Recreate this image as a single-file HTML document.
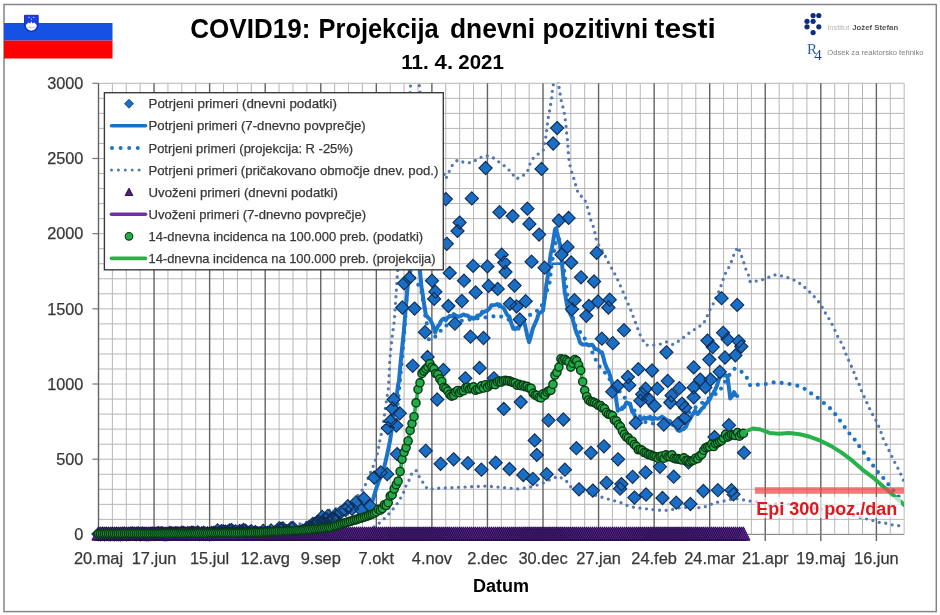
<!DOCTYPE html><html><head><meta charset="utf-8"><title>COVID19: Projekcija dnevni pozitivni testi</title>
<style>html,body{margin:0;padding:0;background:#fff;}svg{display:block;}text{font-family:"Liberation Sans",Arial,sans-serif;}</style></head><body>
<svg width="940" height="615" viewBox="0 0 940 615">
<defs><clipPath id="pc"><rect x="88" y="82" width="816" height="470"/></clipPath><clipPath id="pl"><rect x="98" y="82" width="806" height="453"/></clipPath></defs>
<rect x="0" y="0" width="940" height="615" fill="#fff"/>
<rect x="4" y="4.5" width="932.3" height="607.1" fill="none" stroke="#858585" stroke-width="1.5"/>
<rect x="4" y="23" width="108.5" height="17.6" fill="#1552e4"/>
<rect x="4" y="40.6" width="108.5" height="17.9" fill="#ff0000"/>
<path d="M24.5,15.3 L38.2,15.3 L38.2,23.5 Q38.2,30.6 31.35,31.6 Q24.5,30.6 24.5,23.5 Z" fill="#1d3fe0" stroke="#16279a" stroke-width="0.9"/>
<path d="M25.8,25 L28.6,22.6 L30.2,23.6 L31.4,21.3 L32.6,23.6 L34.2,22.6 L36.8,25 Q36.8,29.6 31.4,30.8 Q25.8,29.6 25.8,25 Z" fill="#ffffff"/>
<path d="M27.4,27.6 Q28.8,26.8 30.2,27.6 Q31.5,26.8 32.8,27.6 Q34.1,26.8 35.4,27.6" fill="none" stroke="#6aa0ff" stroke-width="0.6"/>
<circle cx="29.1" cy="17.4" r="0.7" fill="#c8d8ff"/>
<circle cx="33.7" cy="17.4" r="0.7" fill="#c8d8ff"/>
<circle cx="31.4" cy="19.1" r="0.7" fill="#c8d8ff"/>
<text x="190.2" y="38.4" font-size="28.5" font-weight="bold" fill="#000" textLength="120.2" lengthAdjust="spacingAndGlyphs">COVID19:</text>
<text x="318.6" y="38.4" font-size="28.5" font-weight="bold" fill="#000" textLength="120" lengthAdjust="spacingAndGlyphs">Projekcija</text>
<text x="450" y="38.4" font-size="28.5" font-weight="bold" fill="#000" textLength="85" lengthAdjust="spacingAndGlyphs">dnevni</text>
<text x="542.5" y="38.4" font-size="28.5" font-weight="bold" fill="#000" textLength="105.8" lengthAdjust="spacingAndGlyphs">pozitivni</text>
<text x="654.5" y="38.4" font-size="28.5" font-weight="bold" fill="#000" textLength="61.3" lengthAdjust="spacingAndGlyphs">testi</text>
<text x="401.3" y="68.9" font-size="20.5" font-weight="bold" fill="#000" textLength="27.5" lengthAdjust="spacingAndGlyphs">11.</text>
<text x="434.6" y="68.9" font-size="20.5" font-weight="bold" fill="#000" textLength="18.5" lengthAdjust="spacingAndGlyphs">4.</text>
<text x="458.3" y="68.9" font-size="20.5" font-weight="bold" fill="#000" textLength="45.5" lengthAdjust="spacingAndGlyphs">2021</text>
<circle cx="813.1" cy="15.5" r="2.6" fill="#0c2d7c"/>
<circle cx="818.8" cy="15.5" r="2.6" fill="#0c2d7c"/>
<circle cx="807" cy="21.3" r="2.6" fill="#0c2d7c"/>
<circle cx="813.1" cy="21.3" r="2.6" fill="#0c2d7c"/>
<circle cx="807" cy="26.8" r="2.6" fill="#0c2d7c"/>
<circle cx="818.8" cy="26.8" r="2.6" fill="#0c2d7c"/>
<circle cx="813.1" cy="32.6" r="2.6" fill="#0c2d7c"/>
<text x="827.3" y="30" font-size="7.2" fill="#b4b4b4" textLength="22" lengthAdjust="spacingAndGlyphs">Institut</text>
<text x="852.2" y="30" font-size="7.2" font-weight="bold" fill="#555" textLength="46" lengthAdjust="spacingAndGlyphs">Jožef Stefan</text>
<text x="807" y="54.3" font-size="15" font-family="Liberation Serif" fill="#2a5d9c" style="font-family:'Liberation Serif',serif">R</text>
<text x="814.2" y="60.2" font-size="15" fill="#1b3f8f" style="font-family:'Liberation Serif',serif">4</text>
<text x="827.3" y="54.8" font-size="7.3" fill="#808080" textLength="96.3" lengthAdjust="spacingAndGlyphs">Odsek za reaktorsko tehniko</text>
<line x1="98.5" y1="534.40" x2="903.8" y2="534.40" stroke="#b6b6b6" stroke-width="1"/><line x1="98.5" y1="519.36" x2="903.8" y2="519.36" stroke="#b6b6b6" stroke-width="1"/><line x1="98.5" y1="504.33" x2="903.8" y2="504.33" stroke="#b6b6b6" stroke-width="1"/><line x1="98.5" y1="489.29" x2="903.8" y2="489.29" stroke="#b6b6b6" stroke-width="1"/><line x1="98.5" y1="474.25" x2="903.8" y2="474.25" stroke="#b6b6b6" stroke-width="1"/><line x1="98.5" y1="459.21" x2="903.8" y2="459.21" stroke="#b6b6b6" stroke-width="1"/><line x1="98.5" y1="444.18" x2="903.8" y2="444.18" stroke="#b6b6b6" stroke-width="1"/><line x1="98.5" y1="429.14" x2="903.8" y2="429.14" stroke="#b6b6b6" stroke-width="1"/><line x1="98.5" y1="414.10" x2="903.8" y2="414.10" stroke="#b6b6b6" stroke-width="1"/><line x1="98.5" y1="399.07" x2="903.8" y2="399.07" stroke="#b6b6b6" stroke-width="1"/><line x1="98.5" y1="384.03" x2="903.8" y2="384.03" stroke="#b6b6b6" stroke-width="1"/><line x1="98.5" y1="368.99" x2="903.8" y2="368.99" stroke="#b6b6b6" stroke-width="1"/><line x1="98.5" y1="353.96" x2="903.8" y2="353.96" stroke="#b6b6b6" stroke-width="1"/><line x1="98.5" y1="338.92" x2="903.8" y2="338.92" stroke="#b6b6b6" stroke-width="1"/><line x1="98.5" y1="323.88" x2="903.8" y2="323.88" stroke="#b6b6b6" stroke-width="1"/><line x1="98.5" y1="308.84" x2="903.8" y2="308.84" stroke="#b6b6b6" stroke-width="1"/><line x1="98.5" y1="293.81" x2="903.8" y2="293.81" stroke="#b6b6b6" stroke-width="1"/><line x1="98.5" y1="278.77" x2="903.8" y2="278.77" stroke="#b6b6b6" stroke-width="1"/><line x1="98.5" y1="263.73" x2="903.8" y2="263.73" stroke="#b6b6b6" stroke-width="1"/><line x1="98.5" y1="248.70" x2="903.8" y2="248.70" stroke="#b6b6b6" stroke-width="1"/><line x1="98.5" y1="233.66" x2="903.8" y2="233.66" stroke="#b6b6b6" stroke-width="1"/><line x1="98.5" y1="218.62" x2="903.8" y2="218.62" stroke="#b6b6b6" stroke-width="1"/><line x1="98.5" y1="203.59" x2="903.8" y2="203.59" stroke="#b6b6b6" stroke-width="1"/><line x1="98.5" y1="188.55" x2="903.8" y2="188.55" stroke="#b6b6b6" stroke-width="1"/><line x1="98.5" y1="173.51" x2="903.8" y2="173.51" stroke="#b6b6b6" stroke-width="1"/><line x1="98.5" y1="158.47" x2="903.8" y2="158.47" stroke="#b6b6b6" stroke-width="1"/><line x1="98.5" y1="143.44" x2="903.8" y2="143.44" stroke="#b6b6b6" stroke-width="1"/><line x1="98.5" y1="128.40" x2="903.8" y2="128.40" stroke="#b6b6b6" stroke-width="1"/><line x1="98.5" y1="113.36" x2="903.8" y2="113.36" stroke="#b6b6b6" stroke-width="1"/><line x1="98.5" y1="98.33" x2="903.8" y2="98.33" stroke="#b6b6b6" stroke-width="1"/><line x1="98.5" y1="83.29" x2="903.8" y2="83.29" stroke="#b6b6b6" stroke-width="1"/><line x1="112.39" y1="83.3" x2="112.39" y2="534.4" stroke="#b6b6b6" stroke-width="1"/><line x1="126.28" y1="83.3" x2="126.28" y2="534.4" stroke="#b6b6b6" stroke-width="1"/><line x1="140.17" y1="83.3" x2="140.17" y2="534.4" stroke="#b6b6b6" stroke-width="1"/><line x1="167.95" y1="83.3" x2="167.95" y2="534.4" stroke="#b6b6b6" stroke-width="1"/><line x1="181.84" y1="83.3" x2="181.84" y2="534.4" stroke="#b6b6b6" stroke-width="1"/><line x1="195.74" y1="83.3" x2="195.74" y2="534.4" stroke="#b6b6b6" stroke-width="1"/><line x1="223.52" y1="83.3" x2="223.52" y2="534.4" stroke="#b6b6b6" stroke-width="1"/><line x1="237.41" y1="83.3" x2="237.41" y2="534.4" stroke="#b6b6b6" stroke-width="1"/><line x1="251.30" y1="83.3" x2="251.30" y2="534.4" stroke="#b6b6b6" stroke-width="1"/><line x1="279.08" y1="83.3" x2="279.08" y2="534.4" stroke="#b6b6b6" stroke-width="1"/><line x1="292.97" y1="83.3" x2="292.97" y2="534.4" stroke="#b6b6b6" stroke-width="1"/><line x1="306.86" y1="83.3" x2="306.86" y2="534.4" stroke="#b6b6b6" stroke-width="1"/><line x1="334.64" y1="83.3" x2="334.64" y2="534.4" stroke="#b6b6b6" stroke-width="1"/><line x1="348.53" y1="83.3" x2="348.53" y2="534.4" stroke="#b6b6b6" stroke-width="1"/><line x1="362.43" y1="83.3" x2="362.43" y2="534.4" stroke="#b6b6b6" stroke-width="1"/><line x1="390.21" y1="83.3" x2="390.21" y2="534.4" stroke="#b6b6b6" stroke-width="1"/><line x1="404.10" y1="83.3" x2="404.10" y2="534.4" stroke="#b6b6b6" stroke-width="1"/><line x1="417.99" y1="83.3" x2="417.99" y2="534.4" stroke="#b6b6b6" stroke-width="1"/><line x1="445.77" y1="83.3" x2="445.77" y2="534.4" stroke="#b6b6b6" stroke-width="1"/><line x1="459.66" y1="83.3" x2="459.66" y2="534.4" stroke="#b6b6b6" stroke-width="1"/><line x1="473.55" y1="83.3" x2="473.55" y2="534.4" stroke="#b6b6b6" stroke-width="1"/><line x1="501.33" y1="83.3" x2="501.33" y2="534.4" stroke="#b6b6b6" stroke-width="1"/><line x1="515.22" y1="83.3" x2="515.22" y2="534.4" stroke="#b6b6b6" stroke-width="1"/><line x1="529.11" y1="83.3" x2="529.11" y2="534.4" stroke="#b6b6b6" stroke-width="1"/><line x1="556.90" y1="83.3" x2="556.90" y2="534.4" stroke="#b6b6b6" stroke-width="1"/><line x1="570.79" y1="83.3" x2="570.79" y2="534.4" stroke="#b6b6b6" stroke-width="1"/><line x1="584.68" y1="83.3" x2="584.68" y2="534.4" stroke="#b6b6b6" stroke-width="1"/><line x1="612.46" y1="83.3" x2="612.46" y2="534.4" stroke="#b6b6b6" stroke-width="1"/><line x1="626.35" y1="83.3" x2="626.35" y2="534.4" stroke="#b6b6b6" stroke-width="1"/><line x1="640.24" y1="83.3" x2="640.24" y2="534.4" stroke="#b6b6b6" stroke-width="1"/><line x1="668.02" y1="83.3" x2="668.02" y2="534.4" stroke="#b6b6b6" stroke-width="1"/><line x1="681.91" y1="83.3" x2="681.91" y2="534.4" stroke="#b6b6b6" stroke-width="1"/><line x1="695.80" y1="83.3" x2="695.80" y2="534.4" stroke="#b6b6b6" stroke-width="1"/><line x1="723.59" y1="83.3" x2="723.59" y2="534.4" stroke="#b6b6b6" stroke-width="1"/><line x1="737.48" y1="83.3" x2="737.48" y2="534.4" stroke="#b6b6b6" stroke-width="1"/><line x1="751.37" y1="83.3" x2="751.37" y2="534.4" stroke="#b6b6b6" stroke-width="1"/><line x1="779.15" y1="83.3" x2="779.15" y2="534.4" stroke="#b6b6b6" stroke-width="1"/><line x1="793.04" y1="83.3" x2="793.04" y2="534.4" stroke="#b6b6b6" stroke-width="1"/><line x1="806.93" y1="83.3" x2="806.93" y2="534.4" stroke="#b6b6b6" stroke-width="1"/><line x1="834.71" y1="83.3" x2="834.71" y2="534.4" stroke="#b6b6b6" stroke-width="1"/><line x1="848.60" y1="83.3" x2="848.60" y2="534.4" stroke="#b6b6b6" stroke-width="1"/><line x1="862.49" y1="83.3" x2="862.49" y2="534.4" stroke="#b6b6b6" stroke-width="1"/><line x1="890.28" y1="83.3" x2="890.28" y2="534.4" stroke="#b6b6b6" stroke-width="1"/><line x1="904.17" y1="83.3" x2="904.17" y2="534.4" stroke="#b6b6b6" stroke-width="1"/><line x1="154.06" y1="83.3" x2="154.06" y2="541" stroke="#636363" stroke-width="1.4"/><line x1="209.63" y1="83.3" x2="209.63" y2="541" stroke="#636363" stroke-width="1.4"/><line x1="265.19" y1="83.3" x2="265.19" y2="541" stroke="#636363" stroke-width="1.4"/><line x1="320.75" y1="83.3" x2="320.75" y2="541" stroke="#636363" stroke-width="1.4"/><line x1="376.32" y1="83.3" x2="376.32" y2="541" stroke="#636363" stroke-width="1.4"/><line x1="431.88" y1="83.3" x2="431.88" y2="541" stroke="#636363" stroke-width="1.4"/><line x1="487.44" y1="83.3" x2="487.44" y2="541" stroke="#636363" stroke-width="1.4"/><line x1="543.01" y1="83.3" x2="543.01" y2="541" stroke="#636363" stroke-width="1.4"/><line x1="598.57" y1="83.3" x2="598.57" y2="541" stroke="#636363" stroke-width="1.4"/><line x1="654.13" y1="83.3" x2="654.13" y2="541" stroke="#636363" stroke-width="1.4"/><line x1="709.70" y1="83.3" x2="709.70" y2="541" stroke="#636363" stroke-width="1.4"/><line x1="765.26" y1="83.3" x2="765.26" y2="541" stroke="#636363" stroke-width="1.4"/><line x1="820.82" y1="83.3" x2="820.82" y2="541" stroke="#636363" stroke-width="1.4"/><line x1="876.38" y1="83.3" x2="876.38" y2="541" stroke="#636363" stroke-width="1.4"/>
<line x1="98.5" y1="83.3" x2="98.5" y2="534.4" stroke="#636363" stroke-width="1.4"/>
<line x1="98.5" y1="534.4" x2="903.8" y2="534.4" stroke="#888" stroke-width="1"/>
<line x1="92.4" y1="534.40" x2="98.5" y2="534.40" stroke="#777" stroke-width="1.2"/>
<line x1="92.4" y1="459.21" x2="98.5" y2="459.21" stroke="#777" stroke-width="1.2"/>
<line x1="92.4" y1="384.03" x2="98.5" y2="384.03" stroke="#777" stroke-width="1.2"/>
<line x1="92.4" y1="308.84" x2="98.5" y2="308.84" stroke="#777" stroke-width="1.2"/>
<line x1="92.4" y1="233.66" x2="98.5" y2="233.66" stroke="#777" stroke-width="1.2"/>
<line x1="92.4" y1="158.47" x2="98.5" y2="158.47" stroke="#777" stroke-width="1.2"/>
<line x1="92.4" y1="83.29" x2="98.5" y2="83.29" stroke="#777" stroke-width="1.2"/>
<line x1="98.5" y1="534.4" x2="98.5" y2="541" stroke="#636363" stroke-width="1.4"/>
<g clip-path="url(#pl)">
<polyline points="396.0,420.0 401.0,370.0 404.5,330.0 407.0,290.0 409.0,270.0 421.1,289.3 422.8,299.6 424.5,307.6 425.6,318.9 427.4,326.0 429.0,340.0 434.0,338.0 445.0,326.0 460.0,321.0 480.0,318.0 499.0,315.6 508.0,319.5 520.0,322.0 532.8,313.0 540.6,309.0 549.5,283.4 552.0,262.0 556.0,240.0 559.0,238.0 563.0,262.0 568.0,300.0 575.0,325.0 588.0,343.0 598.3,365.2 604.8,372.4 613.0,384.0 622.3,394.5 634.0,410.0 646.4,423.1 662.0,424.0 678.0,422.0 692.0,410.0 706.0,400.0 719.0,392.0 728.8,375.6 734.6,368.8 739.5,369.8 746.3,376.6 750.2,385.4 756.7,384.8 765.8,384.0 774.9,382.2 784.0,383.2 793.1,384.5 802.2,387.1 810.0,392.6 818.4,398.3 825.1,404.0 832.1,410.0 838.1,418.1 843.9,425.9 849.6,433.7 855.6,440.7 860.8,448.5 866.5,456.3 872.0,464.1 877.7,471.9 884.2,479.0 889.9,486.3 895.9,493.5 902.4,500.6" fill="none" stroke="#1d74c6" stroke-width="4.2" stroke-linecap="round" stroke-dasharray="0 8" />
<polyline points="98.5,533.5 100.5,533.5 102.5,533.5 104.5,533.4 106.4,533.4 108.4,533.4 110.4,533.4 112.4,533.4 114.4,533.3 116.4,533.3 118.3,533.3 120.3,533.3 122.3,533.3 124.3,533.2 126.3,533.2 128.3,533.2 130.3,533.2 132.2,533.2 134.2,533.1 136.2,533.1 138.2,533.1 140.2,533.1 142.2,533.1 144.1,533.1 146.1,533.0 148.1,533.0 150.1,533.0 152.1,533.0 154.1,533.0 156.0,532.9 158.0,532.9 160.0,532.9 162.0,532.9 164.0,532.9 166.0,532.8 168.0,532.8 169.9,532.8 171.9,532.8 173.9,532.8 175.9,532.7 177.9,532.7 179.9,532.7 181.8,532.7 183.8,532.7 185.8,532.6 187.8,532.6 189.8,532.6 191.8,532.6 193.8,532.6 195.7,532.5 197.7,532.5 199.7,532.5 201.7,532.4 203.7,532.4 205.7,532.3 207.6,532.2 209.6,532.2 211.6,532.1 213.6,532.0 215.6,532.0 217.6,531.9 219.5,531.8 221.5,531.8 223.5,531.7 225.5,531.6 227.5,531.6 229.5,531.5 231.5,531.5 233.4,531.4 235.4,531.3 237.4,531.3 239.4,531.2 241.4,531.1 243.4,531.1 245.3,531.0 247.3,530.9 249.3,530.9 251.3,530.8 253.3,530.7 255.3,530.7 257.3,530.6 259.2,530.5 261.2,530.4 263.2,530.3 265.2,530.2 267.2,530.1 269.2,529.9 271.1,529.8 273.1,529.7 275.1,529.6 277.1,529.4 279.1,529.3 281.1,529.2 283.0,529.1 285.0,528.9 287.0,528.8 289.0,528.7 291.0,528.6 293.0,528.4 295.0,528.3 296.9,528.2 298.9,528.1 300.9,527.9 302.9,527.6 304.9,527.3 306.9,527.1 308.8,526.8 310.8,526.6 312.8,526.3 314.8,526.0 316.8,525.8 318.8,525.5 320.8,525.2 322.7,525.0 324.7,524.7 326.7,524.4 328.7,524.2 330.7,523.8 332.7,523.3 334.6,522.8 336.6,522.3 338.6,521.8 340.6,521.4 342.6,520.9 344.6,520.4 346.5,519.9 348.5,519.4 350.5,518.8 352.5,518.0 354.5,517.2 356.5,516.4 358.5,515.6 360.4,514.8 362.4,514.0 364.4,513.2 366.4,511.0 368.4,508.2 370.4,505.3 372.3,501.8 374.3,495.1 376.3,488.3 378.3,482.5 380.3,477.3 382.3,472.0 384.3,466.7 386.2,458.8 388.2,449.4 390.2,440.0 392.2,425.9 394.2,411.8 396.2,398.8 398.1,384.9 399.0,381.0 400.1,367.9 402.1,348.1 404.0,330.0 404.1,327.6 406.1,304.6 408.0,282.0 408.1,280.1 410.1,272.3 412.0,260.8 414.0,250.0 414.0,248.9 416.0,255.9 418.0,262.8 419.7,269.0 420.0,271.3 421.7,289.0 422.0,289.3 423.9,303.2 425.9,315.2 426.3,315.8 427.9,317.3 429.9,319.3 430.0,319.5 431.9,322.9 433.9,327.9 435.2,332.5 435.8,330.7 437.8,326.4 439.8,324.2 440.4,322.0 441.8,320.1 443.8,318.5 445.8,320.3 446.9,318.2 447.8,317.9 449.7,315.9 451.7,316.4 453.4,315.6 453.7,314.1 455.7,315.5 457.7,316.8 459.7,316.3 461.6,315.6 462.5,314.9 463.6,314.5 465.6,315.4 467.6,315.4 469.0,316.9 469.6,317.9 471.6,317.5 473.6,318.7 475.5,317.6 475.6,318.2 477.5,315.4 479.5,315.3 481.5,313.9 482.1,311.7 483.5,312.3 485.5,311.3 487.4,310.5 488.6,309.0 489.4,308.9 491.4,305.3 492.5,305.1 493.4,305.3 495.4,304.9 497.4,304.1 499.0,305.8 499.3,304.5 501.3,306.5 503.3,307.7 504.2,309.0 505.3,311.3 507.3,315.1 509.3,316.5 509.4,316.9 511.3,323.2 513.2,328.7 513.3,327.3 515.2,329.2 517.2,327.8 518.5,328.6 519.2,326.7 521.2,323.7 523.2,320.6 523.7,320.8 525.1,325.6 527.1,334.9 528.9,341.6 529.1,342.2 531.1,335.4 532.8,328.6 533.1,327.8 535.1,323.4 537.1,318.9 538.0,315.6 539.0,313.0 541.0,312.3 543.0,310.6 543.2,309.0 545.0,296.0 546.3,285.0 547.0,281.2 549.0,266.9 550.9,252.5 551.1,252.5 552.9,242.9 554.9,230.1 555.2,229.0 556.3,228.1 556.9,231.6 558.9,240.7 560.1,244.4 560.9,251.8 562.5,268.8 562.8,271.9 564.8,293.0 565.0,293.2 566.8,304.0 568.2,311.0 568.8,311.1 570.8,315.0 572.8,319.0 573.2,321.0 574.8,327.3 576.7,333.4 578.7,337.6 579.7,341.9 580.7,343.3 582.7,344.6 584.7,344.4 586.3,344.5 586.7,344.1 588.6,345.4 590.6,344.8 592.6,345.1 594.1,347.1 594.6,348.9 596.6,349.2 598.6,350.2 600.6,352.8 601.9,352.3 602.5,354.3 604.1,360.0 604.5,362.3 606.5,367.5 608.0,370.4 608.5,370.9 610.5,377.0 611.9,382.1 612.5,383.5 614.4,390.6 615.8,396.4 616.4,401.2 617.8,410.7 618.4,409.7 620.4,409.3 622.3,408.8 622.4,407.5 624.4,407.0 626.2,402.9 626.4,402.5 628.3,403.1 630.1,403.6 630.3,404.6 632.3,412.0 632.7,412.0 634.3,414.4 636.3,419.3 636.6,418.5 638.3,418.7 640.2,419.1 641.8,419.2 642.2,419.2 644.2,417.4 646.2,418.6 648.2,417.6 649.6,418.5 650.2,416.9 652.1,419.5 654.1,417.5 656.1,418.5 656.1,418.4 658.1,418.8 660.1,417.9 662.1,416.7 662.6,417.2 664.1,418.2 666.0,419.6 667.8,420.5 668.0,421.6 670.0,421.1 672.0,424.3 673.0,425.0 674.0,425.1 676.0,427.0 677.9,430.4 679.5,430.9 679.9,430.7 681.9,429.6 683.9,428.9 684.7,427.6 685.9,426.9 687.9,422.1 688.6,421.1 689.9,419.4 691.8,415.9 693.8,412.7 695.0,410.7 695.8,412.4 697.6,414.2 697.8,413.8 699.8,411.4 701.8,408.6 703.7,407.4 705.4,403.8 705.7,404.0 707.7,401.9 709.7,399.5 711.7,394.7 713.2,393.4 713.7,392.5 715.6,388.9 717.6,383.8 719.6,376.8 719.7,377.8 721.6,375.4 723.6,375.1 723.7,375.2 725.6,375.1 727.6,376.9 727.6,377.8 729.5,391.9 730.2,398.6 731.5,396.9 733.5,394.0 734.1,392.1 735.5,395.1 737.2,396.0" fill="none" stroke="#1b74c8" stroke-width="4" stroke-linejoin="round" stroke-linecap="round"/>
<line x1="551.5" y1="263.8" x2="561.5" y2="263.6" stroke="#1b74c8" stroke-width="2.6"/>
<polyline points="300.0,524.0 315.0,520.0 327.8,510.9 342.1,507.0 355.1,499.2 364.2,487.5 367.5,479.7 373.3,466.0 375.9,458.9 377.9,451.7 379.2,443.9 383.3,424.2 386.0,403.4 388.5,387.8 389.8,360.0 392.0,337.8 394.4,320.0 397.3,275.4 402.0,220.0 406.0,150.0 410.6,85.2 414.0,60.0 418.0,70.0 419.7,90.4 425.0,120.0 435.0,150.0 445.8,178.9 449.1,171.6 452.3,165.3 457.5,160.1 464.8,162.7 471.8,162.7 478.3,158.6 484.9,155.6 491.7,156.8 497.8,161.2 504.3,165.8 510.8,171.6 516.0,178.9 521.7,176.8 527.4,171.6 529.8,164.4 533.3,158.0 539.1,153.3 543.3,150.2 546.0,135.9 547.8,120.3 549.3,112.5 550.6,104.7 551.9,96.9 552.4,90.4 553.7,82.6 555.5,70.0 557.5,75.0 558.9,86.5 560.2,94.3 561.5,102.1 563.4,108.6 564.9,116.4 566.0,125.5 566.7,133.3 567.5,140.4 568.0,148.2 568.6,156.0 569.3,162.7 571.2,170.5 573.8,178.3 575.8,185.4 577.9,192.4 580.5,195.8 583.7,197.6 586.8,204.9 588.9,212.7 590.9,220.5 593.5,227.0 595.4,234.8 596.7,241.7 604.5,254.7 608.4,262.5 613.6,271.6 618.8,282.0 622.7,291.1 626.6,300.2 630.5,309.3 634.4,319.8 637.8,328.9 640.9,336.7 645.6,345.0 652.9,345.2 659.1,344.5 666.4,341.9 672.9,344.5 679.4,340.6 685.2,336.1 691.1,331.5 697.6,327.6 703.4,323.7 706.7,317.1 710.1,309.3 713.8,302.8 719.7,289.3 722.4,282.0 724.2,275.5 728.3,268.5 731.5,261.2 734.1,253.9 738.0,246.9 740.6,253.4 743.2,260.7 745.8,269.0 748.4,274.7 750.2,282.0 754.4,281.5 761.4,280.0 767.9,277.6 774.9,275.0 781.9,276.0 789.2,278.1 795.7,280.7 802.2,285.1 808.0,290.3 813.2,295.5 818.4,301.5 822.5,307.8 826.2,314.5 830.3,320.8 834.0,328.0 836.6,334.5 840.7,341.6 843.9,348.3 846.5,355.4 849.6,362.4 853.0,369.7 855.6,377.0 859.0,384.0 861.5,391.0 864.7,397.8 867.8,404.8 871.2,412.1 875.1,418.6 878.2,425.1 880.8,431.6 883.4,439.4 886.8,445.9 890.2,453.0 893.3,459.7 897.2,466.7 900.6,473.8 903.7,481.0" fill="none" stroke="#5478b4" stroke-width="3.3" stroke-linecap="round" stroke-dasharray="0 6.6" />
<polyline points="374.0,527.0 380.1,522.4 386.0,517.1 390.9,511.7 395.7,505.9 399.6,500.0 403.5,492.7 405.8,486.2 409.7,479.0 412.3,471.9 416.2,470.6 419.7,477.6 427.6,489.3 439.3,488.2 454.9,487.5 470.5,486.8 486.0,486.0 503.0,487.5 518.6,489.0 529.0,487.5 542.0,483.6 552.4,478.5 558.9,476.3 566.7,481.5 570.6,486.7 585.0,492.0 599.3,496.5 612.3,500.2 620.1,502.3 625.3,504.9 634.4,507.5 646.1,508.8 657.3,510.0 665.1,510.5 671.6,509.7 679.4,507.9 687.2,507.4 695.0,507.4 701.5,507.9 708.0,505.8 714.5,502.7 722.4,501.4 728.9,499.6 736.7,498.8 744.5,500.1 751.5,501.3 758.0,501.9 767.9,505.3 775.7,504.0 783.5,503.2 800.0,506.0 820.0,509.0 840.0,512.0 860.8,517.5 869.9,519.6 877.7,522.2 885.5,523.2 892.0,524.8 899.8,525.8 903.7,526.5" fill="none" stroke="#5478b4" stroke-width="3.3" stroke-linecap="round" stroke-dasharray="0 6.6" />
</g>
<g clip-path="url(#pc)">
<path d="M98.5,527.5l6.6,6.6l-6.6,6.6l-6.6,-6.6zM100.5,527.7l6.6,6.6l-6.6,6.6l-6.6,-6.6zM102.5,527.2l6.6,6.6l-6.6,6.6l-6.6,-6.6zM104.5,527.7l6.6,6.6l-6.6,6.6l-6.6,-6.6zM106.4,527.3l6.6,6.6l-6.6,6.6l-6.6,-6.6zM108.4,527.5l6.6,6.6l-6.6,6.6l-6.6,-6.6zM110.4,527.7l6.6,6.6l-6.6,6.6l-6.6,-6.6zM112.4,527.3l6.6,6.6l-6.6,6.6l-6.6,-6.6zM114.4,527.8l6.6,6.6l-6.6,6.6l-6.6,-6.6zM116.4,527.4l6.6,6.6l-6.6,6.6l-6.6,-6.6zM118.3,527.7l6.6,6.6l-6.6,6.6l-6.6,-6.6zM120.3,527.7l6.6,6.6l-6.6,6.6l-6.6,-6.6zM122.3,527.4l6.6,6.6l-6.6,6.6l-6.6,-6.6zM124.3,527.1l6.6,6.6l-6.6,6.6l-6.6,-6.6zM126.3,527.7l6.6,6.6l-6.6,6.6l-6.6,-6.6zM128.3,527.6l6.6,6.6l-6.6,6.6l-6.6,-6.6zM130.3,527.2l6.6,6.6l-6.6,6.6l-6.6,-6.6zM132.2,526.9l6.6,6.6l-6.6,6.6l-6.6,-6.6zM134.2,527.3l6.6,6.6l-6.6,6.6l-6.6,-6.6zM136.2,527.4l6.6,6.6l-6.6,6.6l-6.6,-6.6zM138.2,526.9l6.6,6.6l-6.6,6.6l-6.6,-6.6zM140.2,527.8l6.6,6.6l-6.6,6.6l-6.6,-6.6zM142.2,527.0l6.6,6.6l-6.6,6.6l-6.6,-6.6zM144.1,527.5l6.6,6.6l-6.6,6.6l-6.6,-6.6zM146.1,527.7l6.6,6.6l-6.6,6.6l-6.6,-6.6zM148.1,527.7l6.6,6.6l-6.6,6.6l-6.6,-6.6zM150.1,527.5l6.6,6.6l-6.6,6.6l-6.6,-6.6zM152.1,527.1l6.6,6.6l-6.6,6.6l-6.6,-6.6zM154.1,527.6l6.6,6.6l-6.6,6.6l-6.6,-6.6zM156.0,527.3l6.6,6.6l-6.6,6.6l-6.6,-6.6zM158.0,526.5l6.6,6.6l-6.6,6.6l-6.6,-6.6zM160.0,527.0l6.6,6.6l-6.6,6.6l-6.6,-6.6zM162.0,526.6l6.6,6.6l-6.6,6.6l-6.6,-6.6zM164.0,527.7l6.6,6.6l-6.6,6.6l-6.6,-6.6zM166.0,527.7l6.6,6.6l-6.6,6.6l-6.6,-6.6zM168.0,527.4l6.6,6.6l-6.6,6.6l-6.6,-6.6zM169.9,526.4l6.6,6.6l-6.6,6.6l-6.6,-6.6zM171.9,526.9l6.6,6.6l-6.6,6.6l-6.6,-6.6zM173.9,527.1l6.6,6.6l-6.6,6.6l-6.6,-6.6zM175.9,526.6l6.6,6.6l-6.6,6.6l-6.6,-6.6zM177.9,526.8l6.6,6.6l-6.6,6.6l-6.6,-6.6zM179.9,527.2l6.6,6.6l-6.6,6.6l-6.6,-6.6zM181.8,526.1l6.6,6.6l-6.6,6.6l-6.6,-6.6zM183.8,526.3l6.6,6.6l-6.6,6.6l-6.6,-6.6zM185.8,527.3l6.6,6.6l-6.6,6.6l-6.6,-6.6zM187.8,526.6l6.6,6.6l-6.6,6.6l-6.6,-6.6zM189.8,526.7l6.6,6.6l-6.6,6.6l-6.6,-6.6zM191.8,526.0l6.6,6.6l-6.6,6.6l-6.6,-6.6zM193.8,526.3l6.6,6.6l-6.6,6.6l-6.6,-6.6zM195.7,527.2l6.6,6.6l-6.6,6.6l-6.6,-6.6zM197.7,525.7l6.6,6.6l-6.6,6.6l-6.6,-6.6zM199.7,527.6l6.6,6.6l-6.6,6.6l-6.6,-6.6zM201.7,526.9l6.6,6.6l-6.6,6.6l-6.6,-6.6zM203.7,526.2l6.6,6.6l-6.6,6.6l-6.6,-6.6zM205.7,527.5l6.6,6.6l-6.6,6.6l-6.6,-6.6zM207.6,526.8l6.6,6.6l-6.6,6.6l-6.6,-6.6zM209.6,527.7l6.6,6.6l-6.6,6.6l-6.6,-6.6zM211.6,526.4l6.6,6.6l-6.6,6.6l-6.6,-6.6zM213.6,526.2l6.6,6.6l-6.6,6.6l-6.6,-6.6zM215.6,526.6l6.6,6.6l-6.6,6.6l-6.6,-6.6zM217.6,523.8l6.6,6.6l-6.6,6.6l-6.6,-6.6zM219.5,526.1l6.6,6.6l-6.6,6.6l-6.6,-6.6zM221.5,524.5l6.6,6.6l-6.6,6.6l-6.6,-6.6zM223.5,524.9l6.6,6.6l-6.6,6.6l-6.6,-6.6zM225.5,525.0l6.6,6.6l-6.6,6.6l-6.6,-6.6zM227.5,525.5l6.6,6.6l-6.6,6.6l-6.6,-6.6zM229.5,523.9l6.6,6.6l-6.6,6.6l-6.6,-6.6zM231.5,523.5l6.6,6.6l-6.6,6.6l-6.6,-6.6zM233.4,525.4l6.6,6.6l-6.6,6.6l-6.6,-6.6zM235.4,524.7l6.6,6.6l-6.6,6.6l-6.6,-6.6zM237.4,527.1l6.6,6.6l-6.6,6.6l-6.6,-6.6zM239.4,524.5l6.6,6.6l-6.6,6.6l-6.6,-6.6zM241.4,524.7l6.6,6.6l-6.6,6.6l-6.6,-6.6zM243.4,523.3l6.6,6.6l-6.6,6.6l-6.6,-6.6zM245.3,524.0l6.6,6.6l-6.6,6.6l-6.6,-6.6zM247.3,526.2l6.6,6.6l-6.6,6.6l-6.6,-6.6zM249.3,525.8l6.6,6.6l-6.6,6.6l-6.6,-6.6zM251.3,524.6l6.6,6.6l-6.6,6.6l-6.6,-6.6zM253.3,527.3l6.6,6.6l-6.6,6.6l-6.6,-6.6zM255.3,525.5l6.6,6.6l-6.6,6.6l-6.6,-6.6zM257.3,526.7l6.6,6.6l-6.6,6.6l-6.6,-6.6zM259.2,526.9l6.6,6.6l-6.6,6.6l-6.6,-6.6zM261.2,527.1l6.6,6.6l-6.6,6.6l-6.6,-6.6zM263.2,524.2l6.6,6.6l-6.6,6.6l-6.6,-6.6zM265.2,526.8l6.6,6.6l-6.6,6.6l-6.6,-6.6zM267.2,526.3l6.6,6.6l-6.6,6.6l-6.6,-6.6zM269.2,525.8l6.6,6.6l-6.6,6.6l-6.6,-6.6zM271.1,523.8l6.6,6.6l-6.6,6.6l-6.6,-6.6zM273.1,527.0l6.6,6.6l-6.6,6.6l-6.6,-6.6zM275.1,525.5l6.6,6.6l-6.6,6.6l-6.6,-6.6zM277.1,523.7l6.6,6.6l-6.6,6.6l-6.6,-6.6zM279.1,521.7l6.6,6.6l-6.6,6.6l-6.6,-6.6zM281.1,522.1l6.6,6.6l-6.6,6.6l-6.6,-6.6zM283.0,521.9l6.6,6.6l-6.6,6.6l-6.6,-6.6zM285.0,525.4l6.6,6.6l-6.6,6.6l-6.6,-6.6zM287.0,524.6l6.6,6.6l-6.6,6.6l-6.6,-6.6zM289.0,524.9l6.6,6.6l-6.6,6.6l-6.6,-6.6zM291.0,521.7l6.6,6.6l-6.6,6.6l-6.6,-6.6zM293.0,521.3l6.6,6.6l-6.6,6.6l-6.6,-6.6zM295.0,526.1l6.6,6.6l-6.6,6.6l-6.6,-6.6zM296.9,526.0l6.6,6.6l-6.6,6.6l-6.6,-6.6zM298.9,525.7l6.6,6.6l-6.6,6.6l-6.6,-6.6zM300.9,525.6l6.6,6.6l-6.6,6.6l-6.6,-6.6zM302.9,524.1l6.6,6.6l-6.6,6.6l-6.6,-6.6zM304.9,523.5l6.6,6.6l-6.6,6.6l-6.6,-6.6zM306.9,523.0l6.6,6.6l-6.6,6.6l-6.6,-6.6zM308.8,525.5l6.6,6.6l-6.6,6.6l-6.6,-6.6zM310.8,521.4l6.6,6.6l-6.6,6.6l-6.6,-6.6zM312.8,521.9l6.6,6.6l-6.6,6.6l-6.6,-6.6zM314.8,520.0l6.6,6.6l-6.6,6.6l-6.6,-6.6zM316.8,516.2l6.6,6.6l-6.6,6.6l-6.6,-6.6zM318.8,518.8l6.6,6.6l-6.6,6.6l-6.6,-6.6zM320.8,520.5l6.6,6.6l-6.6,6.6l-6.6,-6.6zM306.9,521.8l6.6,6.6l-6.6,6.6l-6.6,-6.6zM308.8,520.6l6.6,6.6l-6.6,6.6l-6.6,-6.6zM310.8,523.4l6.6,6.6l-6.6,6.6l-6.6,-6.6zM312.8,517.4l6.6,6.6l-6.6,6.6l-6.6,-6.6zM314.8,517.2l6.6,6.6l-6.6,6.6l-6.6,-6.6zM316.8,515.8l6.6,6.6l-6.6,6.6l-6.6,-6.6zM318.8,515.3l6.6,6.6l-6.6,6.6l-6.6,-6.6zM320.8,516.9l6.6,6.6l-6.6,6.6l-6.6,-6.6zM322.7,515.9l6.6,6.6l-6.6,6.6l-6.6,-6.6zM324.7,516.8l6.6,6.6l-6.6,6.6l-6.6,-6.6zM326.7,512.7l6.6,6.6l-6.6,6.6l-6.6,-6.6zM328.7,515.2l6.6,6.6l-6.6,6.6l-6.6,-6.6zM330.7,514.3l6.6,6.6l-6.6,6.6l-6.6,-6.6zM332.7,512.6l6.6,6.6l-6.6,6.6l-6.6,-6.6zM334.6,511.9l6.6,6.6l-6.6,6.6l-6.6,-6.6zM336.6,510.0l6.6,6.6l-6.6,6.6l-6.6,-6.6zM485.6,161.4l6.6,6.6l-6.6,6.6l-6.6,-6.6zM445.8,192.5l6.6,6.6l-6.6,6.6l-6.6,-6.6zM471.8,191.8l6.6,6.6l-6.6,6.6l-6.6,-6.6zM459.6,216.0l6.6,6.6l-6.6,6.6l-6.6,-6.6zM457.5,224.3l6.6,6.6l-6.6,6.6l-6.6,-6.6zM446.8,237.2l6.6,6.6l-6.6,6.6l-6.6,-6.6zM499.5,205.6l6.6,6.6l-6.6,6.6l-6.6,-6.6zM512.6,209.5l6.6,6.6l-6.6,6.6l-6.6,-6.6zM527.4,202.1l6.6,6.6l-6.6,6.6l-6.6,-6.6zM529.4,217.3l6.6,6.6l-6.6,6.6l-6.6,-6.6zM539.1,228.0l6.6,6.6l-6.6,6.6l-6.6,-6.6zM541.5,162.3l6.6,6.6l-6.6,6.6l-6.6,-6.6zM553.2,136.9l6.6,6.6l-6.6,6.6l-6.6,-6.6zM557.1,121.5l6.6,6.6l-6.6,6.6l-6.6,-6.6zM558.9,213.9l6.6,6.6l-6.6,6.6l-6.6,-6.6zM568.6,211.3l6.6,6.6l-6.6,6.6l-6.6,-6.6zM473.1,259.3l6.6,6.6l-6.6,6.6l-6.6,-6.6zM487.4,259.8l6.6,6.6l-6.6,6.6l-6.6,-6.6zM449.7,266.3l6.6,6.6l-6.6,6.6l-6.6,-6.6zM464.0,274.1l6.6,6.6l-6.6,6.6l-6.6,-6.6zM432.0,274.1l6.6,6.6l-6.6,6.6l-6.6,-6.6zM409.3,271.5l6.6,6.6l-6.6,6.6l-6.6,-6.6zM404.1,276.7l6.6,6.6l-6.6,6.6l-6.6,-6.6zM435.4,285.1l6.6,6.6l-6.6,6.6l-6.6,-6.6zM434.1,292.3l6.6,6.6l-6.6,6.6l-6.6,-6.6zM475.7,285.8l6.6,6.6l-6.6,6.6l-6.6,-6.6zM488.7,279.3l6.6,6.6l-6.6,6.6l-6.6,-6.6zM402.3,300.9l6.6,6.6l-6.6,6.6l-6.6,-6.6zM414.5,302.0l6.6,6.6l-6.6,6.6l-6.6,-6.6zM448.4,299.4l6.6,6.6l-6.6,6.6l-6.6,-6.6zM461.9,294.4l6.6,6.6l-6.6,6.6l-6.6,-6.6zM454.9,317.1l6.6,6.6l-6.6,6.6l-6.6,-6.6zM425.0,325.6l6.6,6.6l-6.6,6.6l-6.6,-6.6zM470.5,330.1l6.6,6.6l-6.6,6.6l-6.6,-6.6zM483.5,331.4l6.6,6.6l-6.6,6.6l-6.6,-6.6zM427.6,350.4l6.6,6.6l-6.6,6.6l-6.6,-6.6zM412.7,359.2l6.6,6.6l-6.6,6.6l-6.6,-6.6zM479.6,361.3l6.6,6.6l-6.6,6.6l-6.6,-6.6zM465.3,371.7l6.6,6.6l-6.6,6.6l-6.6,-6.6zM497.7,282.3l6.6,6.6l-6.6,6.6l-6.6,-6.6zM505.5,265.4l6.6,6.6l-6.6,6.6l-6.6,-6.6zM514.6,279.0l6.6,6.6l-6.6,6.6l-6.6,-6.6zM510.0,297.2l6.6,6.6l-6.6,6.6l-6.6,-6.6zM516.6,299.8l6.6,6.6l-6.6,6.6l-6.6,-6.6zM525.7,294.6l6.6,6.6l-6.6,6.6l-6.6,-6.6zM519.8,312.9l6.6,6.6l-6.6,6.6l-6.6,-6.6zM501.7,248.1l6.6,6.6l-6.6,6.6l-6.6,-6.6zM504.3,255.9l6.6,6.6l-6.6,6.6l-6.6,-6.6zM531.6,255.1l6.6,6.6l-6.6,6.6l-6.6,-6.6zM544.6,261.1l6.6,6.6l-6.6,6.6l-6.6,-6.6zM561.5,248.1l6.6,6.6l-6.6,6.6l-6.6,-6.6zM567.5,240.3l6.6,6.6l-6.6,6.6l-6.6,-6.6zM571.2,255.9l6.6,6.6l-6.6,6.6l-6.6,-6.6zM581.0,270.7l6.6,6.6l-6.6,6.6l-6.6,-6.6zM594.1,274.9l6.6,6.6l-6.6,6.6l-6.6,-6.6zM596.7,246.3l6.6,6.6l-6.6,6.6l-6.6,-6.6zM574.5,293.6l6.6,6.6l-6.6,6.6l-6.6,-6.6zM572.0,302.7l6.6,6.6l-6.6,6.6l-6.6,-6.6zM588.9,299.4l6.6,6.6l-6.6,6.6l-6.6,-6.6zM586.3,309.2l6.6,6.6l-6.6,6.6l-6.6,-6.6zM598.0,294.9l6.6,6.6l-6.6,6.6l-6.6,-6.6zM609.7,293.1l6.6,6.6l-6.6,6.6l-6.6,-6.6zM608.4,300.9l6.6,6.6l-6.6,6.6l-6.6,-6.6zM601.9,332.1l6.6,6.6l-6.6,6.6l-6.6,-6.6zM612.8,336.6l6.6,6.6l-6.6,6.6l-6.6,-6.6zM624.0,323.6l6.6,6.6l-6.6,6.6l-6.6,-6.6zM638.3,362.6l6.6,6.6l-6.6,6.6l-6.6,-6.6zM627.9,370.4l6.6,6.6l-6.6,6.6l-6.6,-6.6zM493.9,371.7l6.6,6.6l-6.6,6.6l-6.6,-6.6zM617.5,379.5l6.6,6.6l-6.6,6.6l-6.6,-6.6zM393.7,392.9l6.6,6.6l-6.6,6.6l-6.6,-6.6zM392.4,402.0l6.6,6.6l-6.6,6.6l-6.6,-6.6zM399.7,406.7l6.6,6.6l-6.6,6.6l-6.6,-6.6zM390.4,414.5l6.6,6.6l-6.6,6.6l-6.6,-6.6zM396.3,418.9l6.6,6.6l-6.6,6.6l-6.6,-6.6zM387.8,421.5l6.6,6.6l-6.6,6.6l-6.6,-6.6zM397.1,447.5l6.6,6.6l-6.6,6.6l-6.6,-6.6zM425.7,444.2l6.6,6.6l-6.6,6.6l-6.6,-6.6zM437.2,392.9l6.6,6.6l-6.6,6.6l-6.6,-6.6zM440.6,457.2l6.6,6.6l-6.6,6.6l-6.6,-6.6zM453.6,452.7l6.6,6.6l-6.6,6.6l-6.6,-6.6zM467.9,456.6l6.6,6.6l-6.6,6.6l-6.6,-6.6zM481.4,463.1l6.6,6.6l-6.6,6.6l-6.6,-6.6zM387.2,467.6l6.6,6.6l-6.6,6.6l-6.6,-6.6zM380.7,465.8l6.6,6.6l-6.6,6.6l-6.6,-6.6zM374.2,471.0l6.6,6.6l-6.6,6.6l-6.6,-6.6zM363.8,491.8l6.6,6.6l-6.6,6.6l-6.6,-6.6zM370.3,499.6l6.6,6.6l-6.6,6.6l-6.6,-6.6zM356.0,495.7l6.6,6.6l-6.6,6.6l-6.6,-6.6zM352.1,502.2l6.6,6.6l-6.6,6.6l-6.6,-6.6zM345.6,503.5l6.6,6.6l-6.6,6.6l-6.6,-6.6zM340.4,506.1l6.6,6.6l-6.6,6.6l-6.6,-6.6zM335.2,508.7l6.6,6.6l-6.6,6.6l-6.6,-6.6zM361.2,503.5l6.6,6.6l-6.6,6.6l-6.6,-6.6zM443.4,363.3l6.6,6.6l-6.6,6.6l-6.6,-6.6zM503.8,402.3l6.6,6.6l-6.6,6.6l-6.6,-6.6zM520.7,395.5l6.6,6.6l-6.6,6.6l-6.6,-6.6zM548.5,413.7l6.6,6.6l-6.6,6.6l-6.6,-6.6zM563.4,412.9l6.6,6.6l-6.6,6.6l-6.6,-6.6zM534.7,433.8l6.6,6.6l-6.6,6.6l-6.6,-6.6zM536.8,448.3l6.6,6.6l-6.6,6.6l-6.6,-6.6zM495.7,456.1l6.6,6.6l-6.6,6.6l-6.6,-6.6zM509.5,462.4l6.6,6.6l-6.6,6.6l-6.6,-6.6zM523.3,468.4l6.6,6.6l-6.6,6.6l-6.6,-6.6zM532.9,472.3l6.6,6.6l-6.6,6.6l-6.6,-6.6zM546.7,467.6l6.6,6.6l-6.6,6.6l-6.6,-6.6zM564.9,463.1l6.6,6.6l-6.6,6.6l-6.6,-6.6zM576.4,441.6l6.6,6.6l-6.6,6.6l-6.6,-6.6zM590.9,446.2l6.6,6.6l-6.6,6.6l-6.6,-6.6zM603.9,439.7l6.6,6.6l-6.6,6.6l-6.6,-6.6zM618.0,452.7l6.6,6.6l-6.6,6.6l-6.6,-6.6zM579.0,482.7l6.6,6.6l-6.6,6.6l-6.6,-6.6zM592.8,484.0l6.6,6.6l-6.6,6.6l-6.6,-6.6zM606.5,476.2l6.6,6.6l-6.6,6.6l-6.6,-6.6zM621.4,477.5l6.6,6.6l-6.6,6.6l-6.6,-6.6zM620.1,482.1l6.6,6.6l-6.6,6.6l-6.6,-6.6zM632.6,470.2l6.6,6.6l-6.6,6.6l-6.6,-6.6zM645.6,465.8l6.6,6.6l-6.6,6.6l-6.6,-6.6zM634.4,491.0l6.6,6.6l-6.6,6.6l-6.6,-6.6zM646.1,487.9l6.6,6.6l-6.6,6.6l-6.6,-6.6zM629.2,378.6l6.6,6.6l-6.6,6.6l-6.6,-6.6zM612.3,385.1l6.6,6.6l-6.6,6.6l-6.6,-6.6zM635.7,416.3l6.6,6.6l-6.6,6.6l-6.6,-6.6zM642.2,387.7l6.6,6.6l-6.6,6.6l-6.6,-6.6zM640.4,394.2l6.6,6.6l-6.6,6.6l-6.6,-6.6zM721.6,291.6l6.6,6.6l-6.6,6.6l-6.6,-6.6zM737.2,298.3l6.6,6.6l-6.6,6.6l-6.6,-6.6zM666.4,345.7l6.6,6.6l-6.6,6.6l-6.6,-6.6zM652.1,363.9l6.6,6.6l-6.6,6.6l-6.6,-6.6zM667.7,374.3l6.6,6.6l-6.6,6.6l-6.6,-6.6zM693.7,360.8l6.6,6.6l-6.6,6.6l-6.6,-6.6zM707.5,334.0l6.6,6.6l-6.6,6.6l-6.6,-6.6zM712.7,340.5l6.6,6.6l-6.6,6.6l-6.6,-6.6zM709.3,353.0l6.6,6.6l-6.6,6.6l-6.6,-6.6zM723.1,326.2l6.6,6.6l-6.6,6.6l-6.6,-6.6zM727.6,332.7l6.6,6.6l-6.6,6.6l-6.6,-6.6zM738.7,334.7l6.6,6.6l-6.6,6.6l-6.6,-6.6zM741.3,339.9l6.6,6.6l-6.6,6.6l-6.6,-6.6zM725.0,350.9l6.6,6.6l-6.6,6.6l-6.6,-6.6zM735.4,348.8l6.6,6.6l-6.6,6.6l-6.6,-6.6zM719.7,365.2l6.6,6.6l-6.6,6.6l-6.6,-6.6zM700.2,373.0l6.6,6.6l-6.6,6.6l-6.6,-6.6zM710.6,373.0l6.6,6.6l-6.6,6.6l-6.6,-6.6zM645.6,382.1l6.6,6.6l-6.6,6.6l-6.6,-6.6zM657.3,382.1l6.6,6.6l-6.6,6.6l-6.6,-6.6zM679.4,381.6l6.6,6.6l-6.6,6.6l-6.6,-6.6zM693.7,380.8l6.6,6.6l-6.6,6.6l-6.6,-6.6zM705.4,380.8l6.6,6.6l-6.6,6.6l-6.6,-6.6zM648.2,392.0l6.6,6.6l-6.6,6.6l-6.6,-6.6zM654.7,399.3l6.6,6.6l-6.6,6.6l-6.6,-6.6zM671.6,388.9l6.6,6.6l-6.6,6.6l-6.6,-6.6zM670.3,395.9l6.6,6.6l-6.6,6.6l-6.6,-6.6zM682.0,397.2l6.6,6.6l-6.6,6.6l-6.6,-6.6zM685.2,401.1l6.6,6.6l-6.6,6.6l-6.6,-6.6zM693.7,390.7l6.6,6.6l-6.6,6.6l-6.6,-6.6zM663.8,418.0l6.6,6.6l-6.6,6.6l-6.6,-6.6zM678.1,416.7l6.6,6.6l-6.6,6.6l-6.6,-6.6zM684.6,411.5l6.6,6.6l-6.6,6.6l-6.6,-6.6zM728.9,418.6l6.6,6.6l-6.6,6.6l-6.6,-6.6zM714.5,430.5l6.6,6.6l-6.6,6.6l-6.6,-6.6zM744.0,446.1l6.6,6.6l-6.6,6.6l-6.6,-6.6zM659.9,460.2l6.6,6.6l-6.6,6.6l-6.6,-6.6zM673.7,470.1l6.6,6.6l-6.6,6.6l-6.6,-6.6zM688.5,455.8l6.6,6.6l-6.6,6.6l-6.6,-6.6zM662.5,491.4l6.6,6.6l-6.6,6.6l-6.6,-6.6zM676.3,496.1l6.6,6.6l-6.6,6.6l-6.6,-6.6zM690.4,497.4l6.6,6.6l-6.6,6.6l-6.6,-6.6zM703.4,484.4l6.6,6.6l-6.6,6.6l-6.6,-6.6zM717.9,483.6l6.6,6.6l-6.6,6.6l-6.6,-6.6zM731.5,483.6l6.6,6.6l-6.6,6.6l-6.6,-6.6zM733.5,487.7l6.6,6.6l-6.6,6.6l-6.6,-6.6zM322.3,510.4l6.6,6.6l-6.6,6.6l-6.6,-6.6zM347.9,499.6l6.6,6.6l-6.6,6.6l-6.6,-6.6zM328.0,509.4l6.6,6.6l-6.6,6.6l-6.6,-6.6z" fill="#1a6ec4" stroke="#0f2d55" stroke-width="1.1" stroke-linejoin="miter"/>
</g>
<g clip-path="url(#pc)">
<path d="M98.5,526.8l6.6,13.4h-13.2zM100.5,526.8l6.6,13.4h-13.2zM102.5,526.8l6.6,13.4h-13.2zM104.5,526.8l6.6,13.4h-13.2zM106.4,526.8l6.6,13.4h-13.2zM108.4,526.8l6.6,13.4h-13.2zM110.4,526.8l6.6,13.4h-13.2zM112.4,526.8l6.6,13.4h-13.2zM114.4,526.8l6.6,13.4h-13.2zM116.4,526.8l6.6,13.4h-13.2zM118.3,526.8l6.6,13.4h-13.2zM120.3,526.8l6.6,13.4h-13.2zM122.3,526.8l6.6,13.4h-13.2zM124.3,526.8l6.6,13.4h-13.2zM126.3,526.8l6.6,13.4h-13.2zM128.3,526.8l6.6,13.4h-13.2zM130.3,526.8l6.6,13.4h-13.2zM132.2,526.8l6.6,13.4h-13.2zM134.2,526.8l6.6,13.4h-13.2zM136.2,526.8l6.6,13.4h-13.2zM138.2,526.8l6.6,13.4h-13.2zM140.2,526.8l6.6,13.4h-13.2zM142.2,526.8l6.6,13.4h-13.2zM144.1,526.8l6.6,13.4h-13.2zM146.1,526.8l6.6,13.4h-13.2zM148.1,526.8l6.6,13.4h-13.2zM150.1,526.8l6.6,13.4h-13.2zM152.1,526.8l6.6,13.4h-13.2zM154.1,526.8l6.6,13.4h-13.2zM156.0,526.8l6.6,13.4h-13.2zM158.0,526.8l6.6,13.4h-13.2zM160.0,526.8l6.6,13.4h-13.2zM162.0,526.8l6.6,13.4h-13.2zM164.0,526.8l6.6,13.4h-13.2zM166.0,526.8l6.6,13.4h-13.2zM168.0,526.8l6.6,13.4h-13.2zM169.9,526.8l6.6,13.4h-13.2zM171.9,526.8l6.6,13.4h-13.2zM173.9,526.8l6.6,13.4h-13.2zM175.9,526.8l6.6,13.4h-13.2zM177.9,526.8l6.6,13.4h-13.2zM179.9,526.8l6.6,13.4h-13.2zM181.8,526.8l6.6,13.4h-13.2zM183.8,526.8l6.6,13.4h-13.2zM185.8,526.8l6.6,13.4h-13.2zM187.8,526.8l6.6,13.4h-13.2zM189.8,526.8l6.6,13.4h-13.2zM191.8,526.8l6.6,13.4h-13.2zM193.8,526.8l6.6,13.4h-13.2zM195.7,526.8l6.6,13.4h-13.2zM197.7,526.8l6.6,13.4h-13.2zM199.7,526.8l6.6,13.4h-13.2zM201.7,526.8l6.6,13.4h-13.2zM203.7,526.8l6.6,13.4h-13.2zM205.7,526.8l6.6,13.4h-13.2zM207.6,526.8l6.6,13.4h-13.2zM209.6,526.8l6.6,13.4h-13.2zM211.6,526.8l6.6,13.4h-13.2zM213.6,526.8l6.6,13.4h-13.2zM215.6,526.8l6.6,13.4h-13.2zM217.6,526.8l6.6,13.4h-13.2zM219.5,526.8l6.6,13.4h-13.2zM221.5,526.8l6.6,13.4h-13.2zM223.5,526.8l6.6,13.4h-13.2zM225.5,526.8l6.6,13.4h-13.2zM227.5,526.8l6.6,13.4h-13.2zM229.5,526.8l6.6,13.4h-13.2zM231.5,526.8l6.6,13.4h-13.2zM233.4,526.8l6.6,13.4h-13.2zM235.4,526.8l6.6,13.4h-13.2zM237.4,526.8l6.6,13.4h-13.2zM239.4,526.8l6.6,13.4h-13.2zM241.4,526.8l6.6,13.4h-13.2zM243.4,526.8l6.6,13.4h-13.2zM245.3,526.8l6.6,13.4h-13.2zM247.3,526.8l6.6,13.4h-13.2zM249.3,526.8l6.6,13.4h-13.2zM251.3,526.8l6.6,13.4h-13.2zM253.3,526.8l6.6,13.4h-13.2zM255.3,526.8l6.6,13.4h-13.2zM257.3,526.8l6.6,13.4h-13.2zM259.2,526.8l6.6,13.4h-13.2zM261.2,526.8l6.6,13.4h-13.2zM263.2,526.8l6.6,13.4h-13.2zM265.2,526.8l6.6,13.4h-13.2zM267.2,526.8l6.6,13.4h-13.2zM269.2,526.8l6.6,13.4h-13.2zM271.1,526.8l6.6,13.4h-13.2zM273.1,526.8l6.6,13.4h-13.2zM275.1,526.8l6.6,13.4h-13.2zM277.1,526.8l6.6,13.4h-13.2zM279.1,526.8l6.6,13.4h-13.2zM281.1,526.8l6.6,13.4h-13.2zM283.0,526.8l6.6,13.4h-13.2zM285.0,526.8l6.6,13.4h-13.2zM287.0,526.8l6.6,13.4h-13.2zM289.0,526.8l6.6,13.4h-13.2zM291.0,526.8l6.6,13.4h-13.2zM293.0,526.8l6.6,13.4h-13.2zM295.0,526.8l6.6,13.4h-13.2zM296.9,526.8l6.6,13.4h-13.2zM298.9,526.8l6.6,13.4h-13.2zM300.9,526.8l6.6,13.4h-13.2zM302.9,526.8l6.6,13.4h-13.2zM304.9,526.8l6.6,13.4h-13.2zM306.9,526.8l6.6,13.4h-13.2zM308.8,526.8l6.6,13.4h-13.2zM310.8,526.8l6.6,13.4h-13.2zM312.8,526.8l6.6,13.4h-13.2zM314.8,526.8l6.6,13.4h-13.2zM316.8,526.8l6.6,13.4h-13.2zM318.8,526.8l6.6,13.4h-13.2zM320.8,526.8l6.6,13.4h-13.2zM322.7,526.8l6.6,13.4h-13.2zM324.7,526.8l6.6,13.4h-13.2zM326.7,526.8l6.6,13.4h-13.2zM328.7,526.8l6.6,13.4h-13.2zM330.7,526.8l6.6,13.4h-13.2zM332.7,526.8l6.6,13.4h-13.2zM334.6,526.8l6.6,13.4h-13.2zM336.6,526.8l6.6,13.4h-13.2zM338.6,526.8l6.6,13.4h-13.2zM340.6,526.8l6.6,13.4h-13.2zM342.6,526.8l6.6,13.4h-13.2zM344.6,526.8l6.6,13.4h-13.2zM346.5,526.8l6.6,13.4h-13.2zM348.5,526.8l6.6,13.4h-13.2zM350.5,526.8l6.6,13.4h-13.2zM352.5,526.8l6.6,13.4h-13.2zM354.5,526.8l6.6,13.4h-13.2zM356.5,526.8l6.6,13.4h-13.2zM358.5,526.8l6.6,13.4h-13.2zM360.4,526.8l6.6,13.4h-13.2zM362.4,526.8l6.6,13.4h-13.2zM364.4,526.8l6.6,13.4h-13.2zM366.4,526.8l6.6,13.4h-13.2zM368.4,526.8l6.6,13.4h-13.2zM370.4,526.8l6.6,13.4h-13.2zM372.3,526.8l6.6,13.4h-13.2zM374.3,526.8l6.6,13.4h-13.2zM376.3,526.8l6.6,13.4h-13.2zM378.3,526.8l6.6,13.4h-13.2zM380.3,526.8l6.6,13.4h-13.2zM382.3,526.8l6.6,13.4h-13.2zM384.3,526.8l6.6,13.4h-13.2zM386.2,526.8l6.6,13.4h-13.2zM388.2,526.8l6.6,13.4h-13.2zM390.2,526.8l6.6,13.4h-13.2zM392.2,526.8l6.6,13.4h-13.2zM394.2,526.8l6.6,13.4h-13.2zM396.2,526.8l6.6,13.4h-13.2zM398.1,526.8l6.6,13.4h-13.2zM400.1,526.8l6.6,13.4h-13.2zM402.1,526.8l6.6,13.4h-13.2zM404.1,526.8l6.6,13.4h-13.2zM406.1,526.8l6.6,13.4h-13.2zM408.1,526.8l6.6,13.4h-13.2zM410.1,526.8l6.6,13.4h-13.2zM412.0,526.8l6.6,13.4h-13.2zM414.0,526.8l6.6,13.4h-13.2zM416.0,526.8l6.6,13.4h-13.2zM418.0,526.8l6.6,13.4h-13.2zM420.0,526.8l6.6,13.4h-13.2zM422.0,526.8l6.6,13.4h-13.2zM423.9,526.8l6.6,13.4h-13.2zM425.9,526.8l6.6,13.4h-13.2zM427.9,526.8l6.6,13.4h-13.2zM429.9,526.8l6.6,13.4h-13.2zM431.9,526.8l6.6,13.4h-13.2zM433.9,526.8l6.6,13.4h-13.2zM435.8,526.8l6.6,13.4h-13.2zM437.8,526.8l6.6,13.4h-13.2zM439.8,526.8l6.6,13.4h-13.2zM441.8,526.8l6.6,13.4h-13.2zM443.8,526.8l6.6,13.4h-13.2zM445.8,526.8l6.6,13.4h-13.2zM447.8,526.8l6.6,13.4h-13.2zM449.7,526.8l6.6,13.4h-13.2zM451.7,526.8l6.6,13.4h-13.2zM453.7,526.8l6.6,13.4h-13.2zM455.7,526.8l6.6,13.4h-13.2zM457.7,526.8l6.6,13.4h-13.2zM459.7,526.8l6.6,13.4h-13.2zM461.6,526.8l6.6,13.4h-13.2zM463.6,526.8l6.6,13.4h-13.2zM465.6,526.8l6.6,13.4h-13.2zM467.6,526.8l6.6,13.4h-13.2zM469.6,526.8l6.6,13.4h-13.2zM471.6,526.8l6.6,13.4h-13.2zM473.6,526.8l6.6,13.4h-13.2zM475.5,526.8l6.6,13.4h-13.2zM477.5,526.8l6.6,13.4h-13.2zM479.5,526.8l6.6,13.4h-13.2zM481.5,526.8l6.6,13.4h-13.2zM483.5,526.8l6.6,13.4h-13.2zM485.5,526.8l6.6,13.4h-13.2zM487.4,526.8l6.6,13.4h-13.2zM489.4,526.8l6.6,13.4h-13.2zM491.4,526.8l6.6,13.4h-13.2zM493.4,526.8l6.6,13.4h-13.2zM495.4,526.8l6.6,13.4h-13.2zM497.4,526.8l6.6,13.4h-13.2zM499.3,526.8l6.6,13.4h-13.2zM501.3,526.8l6.6,13.4h-13.2zM503.3,526.8l6.6,13.4h-13.2zM505.3,526.8l6.6,13.4h-13.2zM507.3,526.8l6.6,13.4h-13.2zM509.3,526.8l6.6,13.4h-13.2zM511.3,526.8l6.6,13.4h-13.2zM513.2,526.8l6.6,13.4h-13.2zM515.2,526.8l6.6,13.4h-13.2zM517.2,526.8l6.6,13.4h-13.2zM519.2,526.8l6.6,13.4h-13.2zM521.2,526.8l6.6,13.4h-13.2zM523.2,526.8l6.6,13.4h-13.2zM525.1,526.8l6.6,13.4h-13.2zM527.1,526.8l6.6,13.4h-13.2zM529.1,526.8l6.6,13.4h-13.2zM531.1,526.8l6.6,13.4h-13.2zM533.1,526.8l6.6,13.4h-13.2zM535.1,526.8l6.6,13.4h-13.2zM537.1,526.8l6.6,13.4h-13.2zM539.0,526.8l6.6,13.4h-13.2zM541.0,526.8l6.6,13.4h-13.2zM543.0,526.8l6.6,13.4h-13.2zM545.0,526.8l6.6,13.4h-13.2zM547.0,526.8l6.6,13.4h-13.2zM549.0,526.8l6.6,13.4h-13.2zM550.9,526.8l6.6,13.4h-13.2zM552.9,526.8l6.6,13.4h-13.2zM554.9,526.8l6.6,13.4h-13.2zM556.9,526.8l6.6,13.4h-13.2zM558.9,526.8l6.6,13.4h-13.2zM560.9,526.8l6.6,13.4h-13.2zM562.8,526.8l6.6,13.4h-13.2zM564.8,526.8l6.6,13.4h-13.2zM566.8,526.8l6.6,13.4h-13.2zM568.8,526.8l6.6,13.4h-13.2zM570.8,526.8l6.6,13.4h-13.2zM572.8,526.8l6.6,13.4h-13.2zM574.8,526.8l6.6,13.4h-13.2zM576.7,526.8l6.6,13.4h-13.2zM578.7,526.8l6.6,13.4h-13.2zM580.7,526.8l6.6,13.4h-13.2zM582.7,526.8l6.6,13.4h-13.2zM584.7,526.8l6.6,13.4h-13.2zM586.7,526.8l6.6,13.4h-13.2zM588.6,526.8l6.6,13.4h-13.2zM590.6,526.8l6.6,13.4h-13.2zM592.6,526.8l6.6,13.4h-13.2zM594.6,526.8l6.6,13.4h-13.2zM596.6,526.8l6.6,13.4h-13.2zM598.6,526.8l6.6,13.4h-13.2zM600.6,526.8l6.6,13.4h-13.2zM602.5,526.8l6.6,13.4h-13.2zM604.5,526.8l6.6,13.4h-13.2zM606.5,526.8l6.6,13.4h-13.2zM608.5,526.8l6.6,13.4h-13.2zM610.5,526.8l6.6,13.4h-13.2zM612.5,526.8l6.6,13.4h-13.2zM614.4,526.8l6.6,13.4h-13.2zM616.4,526.8l6.6,13.4h-13.2zM618.4,526.8l6.6,13.4h-13.2zM620.4,526.8l6.6,13.4h-13.2zM622.4,526.8l6.6,13.4h-13.2zM624.4,526.8l6.6,13.4h-13.2zM626.4,526.8l6.6,13.4h-13.2zM628.3,526.8l6.6,13.4h-13.2zM630.3,526.8l6.6,13.4h-13.2zM632.3,526.8l6.6,13.4h-13.2zM634.3,526.8l6.6,13.4h-13.2zM636.3,526.8l6.6,13.4h-13.2zM638.3,526.8l6.6,13.4h-13.2zM640.2,526.8l6.6,13.4h-13.2zM642.2,526.8l6.6,13.4h-13.2zM644.2,526.8l6.6,13.4h-13.2zM646.2,526.8l6.6,13.4h-13.2zM648.2,526.8l6.6,13.4h-13.2zM650.2,526.8l6.6,13.4h-13.2zM652.1,526.8l6.6,13.4h-13.2zM654.1,526.8l6.6,13.4h-13.2zM656.1,526.8l6.6,13.4h-13.2zM658.1,526.8l6.6,13.4h-13.2zM660.1,526.8l6.6,13.4h-13.2zM662.1,526.8l6.6,13.4h-13.2zM664.1,526.8l6.6,13.4h-13.2zM666.0,526.8l6.6,13.4h-13.2zM668.0,526.8l6.6,13.4h-13.2zM670.0,526.8l6.6,13.4h-13.2zM672.0,526.8l6.6,13.4h-13.2zM674.0,526.8l6.6,13.4h-13.2zM676.0,526.8l6.6,13.4h-13.2zM677.9,526.8l6.6,13.4h-13.2zM679.9,526.8l6.6,13.4h-13.2zM681.9,526.8l6.6,13.4h-13.2zM683.9,526.8l6.6,13.4h-13.2zM685.9,526.8l6.6,13.4h-13.2zM687.9,526.8l6.6,13.4h-13.2zM689.9,526.8l6.6,13.4h-13.2zM691.8,526.8l6.6,13.4h-13.2zM693.8,526.8l6.6,13.4h-13.2zM695.8,526.8l6.6,13.4h-13.2zM697.8,526.8l6.6,13.4h-13.2zM699.8,526.8l6.6,13.4h-13.2zM701.8,526.8l6.6,13.4h-13.2zM703.7,526.8l6.6,13.4h-13.2zM705.7,526.8l6.6,13.4h-13.2zM707.7,526.8l6.6,13.4h-13.2zM709.7,526.8l6.6,13.4h-13.2zM711.7,526.8l6.6,13.4h-13.2zM713.7,526.8l6.6,13.4h-13.2zM715.6,526.8l6.6,13.4h-13.2zM717.6,526.8l6.6,13.4h-13.2zM719.6,526.8l6.6,13.4h-13.2zM721.6,526.8l6.6,13.4h-13.2zM723.6,526.8l6.6,13.4h-13.2zM725.6,526.8l6.6,13.4h-13.2zM727.6,526.8l6.6,13.4h-13.2zM729.5,526.8l6.6,13.4h-13.2zM731.5,526.8l6.6,13.4h-13.2zM733.5,526.8l6.6,13.4h-13.2zM735.5,526.8l6.6,13.4h-13.2zM737.5,526.8l6.6,13.4h-13.2zM739.5,526.8l6.6,13.4h-13.2zM741.4,526.8l6.6,13.4h-13.2zM743.4,526.8l6.6,13.4h-13.2z" fill="#6a2fa0" stroke="#2a0f50" stroke-width="1"/>
<polyline points="98.5,533.6 100.5,533.6 102.5,533.6 104.5,533.6 106.4,533.6 108.4,533.6 110.4,533.6 112.4,533.6 114.4,533.6 116.4,533.6 118.3,533.6 120.3,533.5 122.3,533.5 124.3,533.5 126.3,533.5 128.3,533.5 130.3,533.5 132.2,533.5 134.2,533.5 136.2,533.5 138.2,533.5 140.2,533.5 142.2,533.5 144.1,533.5 146.1,533.5 148.1,533.5 150.1,533.5 152.1,533.5 154.1,533.5 156.0,533.5 158.0,533.5 160.0,533.4 162.0,533.4 164.0,533.4 166.0,533.4 168.0,533.4 169.9,533.4 171.9,533.4 173.9,533.4 175.9,533.4 177.9,533.4 179.9,533.4 181.8,533.4 183.8,533.4 185.8,533.4 187.8,533.3 189.8,533.3 191.8,533.3 193.8,533.3 195.7,533.3 197.7,533.2 199.7,533.2 201.7,533.2 203.7,533.2 205.7,533.2 207.6,533.2 209.6,533.1 211.6,533.1 213.6,533.1 215.6,533.1 217.6,533.1 219.5,533.1 221.5,533.0 223.5,533.0 225.5,533.0 227.5,533.0 229.5,533.0 231.5,533.0 233.4,532.9 235.4,532.9 237.4,532.9 239.4,532.9 241.4,532.9 243.4,532.9 245.3,532.8 247.3,532.8 249.3,532.8 251.3,532.7 253.3,532.6 255.3,532.5 257.3,532.5 259.2,532.4 261.2,532.3 263.2,532.2 265.2,532.1 267.2,532.0 269.2,531.9 271.1,531.8 273.1,531.7 275.1,531.6 277.1,531.5 279.1,531.4 281.1,531.3 283.0,531.2 285.0,531.1 287.0,531.0 289.0,530.9 291.0,530.8 293.0,530.7 295.0,530.6 296.9,530.5 298.9,530.5 300.9,530.3 302.9,530.1 304.9,529.9 306.9,529.7 308.8,529.5 310.8,529.4 312.8,529.2 314.8,529.0 316.8,528.8 318.8,528.6 320.8,528.4 322.7,528.2 324.7,528.0 326.7,527.8 328.7,527.6 330.7,527.3 332.7,526.7 334.6,526.1 336.6,525.5 338.6,524.9 340.6,524.3 342.6,523.6 344.6,523.0 346.5,522.5 348.5,521.9 350.5,521.3 352.5,520.7 354.5,520.1 356.5,519.6 358.5,518.9 360.4,518.3 362.4,517.7 364.4,517.1 366.4,516.3 368.4,515.6 370.4,514.8 372.3,514.0 374.3,513.2 376.3,511.9 378.3,509.4 380.3,510.2 382.3,508.6 384.3,504.8 386.2,505.5 388.2,502.7 390.2,496.1 392.2,494.9 394.2,489.0 396.2,484.7 398.1,481.2 400.1,471.5 402.1,459.3 404.1,452.3 406.1,447.6 408.1,441.0 410.1,430.4 412.0,423.6 414.0,416.7 416.0,402.9 418.0,389.4 420.0,382.8 422.0,373.4 423.9,371.1 425.9,368.9 427.9,366.9 429.9,363.6 431.9,367.2 433.9,368.8 435.8,373.5 437.8,374.3 439.8,378.9 441.8,381.5 443.8,387.4 445.8,388.6 447.8,391.1 449.7,394.3 451.7,396.1 453.7,395.3 455.7,392.0 457.7,390.5 459.7,392.7 461.6,390.9 463.6,390.8 465.6,388.0 467.6,387.2 469.6,388.9 471.6,388.0 473.6,386.9 475.5,390.3 477.5,389.0 479.5,389.0 481.5,385.8 483.5,388.0 485.5,384.7 487.4,387.2 489.4,385.3 491.4,384.2 493.4,384.1 495.4,384.7 497.4,381.9 499.3,381.1 501.3,382.2 503.3,380.9 505.3,380.3 507.3,380.9 509.3,380.9 511.3,381.8 513.2,382.6 515.2,383.0 517.2,385.3 519.2,384.3 521.2,385.8 523.2,385.4 525.1,386.8 527.1,386.4 529.1,388.1 531.1,388.2 533.1,393.3 535.1,395.2 537.1,395.2 539.0,397.4 541.0,397.9 543.0,393.8 545.0,395.1 547.0,392.1 549.0,390.7 550.9,390.3 552.9,384.4 554.9,375.2 556.9,372.4 558.9,367.1 560.9,358.8 562.8,360.2 564.8,359.3 566.8,360.7 568.8,361.9 570.8,367.1 572.8,363.2 574.8,359.5 576.7,360.8 578.7,365.2 580.7,370.4 582.7,381.7 584.7,390.3 586.7,396.5 588.6,400.0 590.6,401.7 592.6,401.9 594.6,402.7 596.6,403.9 598.6,405.5 600.6,405.6 602.5,408.0 604.5,408.6 606.5,412.5 608.5,414.3 610.5,414.7 612.5,415.6 614.4,420.2 616.4,421.0 618.4,424.6 620.4,426.7 622.4,431.1 624.4,434.4 626.4,437.0 628.3,437.9 630.3,440.9 632.3,441.2 634.3,444.5 636.3,446.3 638.3,449.8 640.2,449.5 642.2,450.4 644.2,452.5 646.2,453.1 648.2,454.6 650.2,454.6 652.1,455.9 654.1,456.2 656.1,457.0 658.1,458.3 660.1,456.5 662.1,456.0 664.1,458.2 666.0,454.9 668.0,456.7 670.0,456.6 672.0,454.9 674.0,458.3 676.0,459.0 677.9,458.6 679.9,459.4 681.9,460.0 683.9,457.8 685.9,460.5 687.9,460.6 689.9,461.8 691.8,460.8 693.8,460.1 695.8,458.0 697.8,458.6 699.8,455.9 701.8,454.3 703.7,450.3 705.7,447.7 707.7,446.9 709.7,446.7 711.7,444.1 713.7,446.5 715.6,443.8 717.6,442.8 719.6,441.5 721.6,440.5 723.6,438.2 725.6,434.4 727.6,437.1 729.5,435.9 731.5,434.7 733.5,434.9 735.5,435.5 737.5,432.6 739.5,436.2 741.4,434.0 743.4,433.4" fill="none" stroke="#22ad4a" stroke-width="3.6" stroke-linejoin="round"/>
<g fill="#22ad4a" stroke="#0a3a14" stroke-width="1.4"><circle cx="98.5" cy="533.6" r="4.1"/><circle cx="100.5" cy="533.6" r="4.1"/><circle cx="102.5" cy="533.6" r="4.1"/><circle cx="104.5" cy="533.6" r="4.1"/><circle cx="106.4" cy="533.6" r="4.1"/><circle cx="108.4" cy="533.6" r="4.1"/><circle cx="110.4" cy="533.6" r="4.1"/><circle cx="112.4" cy="533.6" r="4.1"/><circle cx="114.4" cy="533.6" r="4.1"/><circle cx="116.4" cy="533.6" r="4.1"/><circle cx="118.3" cy="533.6" r="4.1"/><circle cx="120.3" cy="533.5" r="4.1"/><circle cx="122.3" cy="533.5" r="4.1"/><circle cx="124.3" cy="533.5" r="4.1"/><circle cx="126.3" cy="533.5" r="4.1"/><circle cx="128.3" cy="533.5" r="4.1"/><circle cx="130.3" cy="533.5" r="4.1"/><circle cx="132.2" cy="533.5" r="4.1"/><circle cx="134.2" cy="533.5" r="4.1"/><circle cx="136.2" cy="533.5" r="4.1"/><circle cx="138.2" cy="533.5" r="4.1"/><circle cx="140.2" cy="533.5" r="4.1"/><circle cx="142.2" cy="533.5" r="4.1"/><circle cx="144.1" cy="533.5" r="4.1"/><circle cx="146.1" cy="533.5" r="4.1"/><circle cx="148.1" cy="533.5" r="4.1"/><circle cx="150.1" cy="533.5" r="4.1"/><circle cx="152.1" cy="533.5" r="4.1"/><circle cx="154.1" cy="533.5" r="4.1"/><circle cx="156.0" cy="533.5" r="4.1"/><circle cx="158.0" cy="533.5" r="4.1"/><circle cx="160.0" cy="533.4" r="4.1"/><circle cx="162.0" cy="533.4" r="4.1"/><circle cx="164.0" cy="533.4" r="4.1"/><circle cx="166.0" cy="533.4" r="4.1"/><circle cx="168.0" cy="533.4" r="4.1"/><circle cx="169.9" cy="533.4" r="4.1"/><circle cx="171.9" cy="533.4" r="4.1"/><circle cx="173.9" cy="533.4" r="4.1"/><circle cx="175.9" cy="533.4" r="4.1"/><circle cx="177.9" cy="533.4" r="4.1"/><circle cx="179.9" cy="533.4" r="4.1"/><circle cx="181.8" cy="533.4" r="4.1"/><circle cx="183.8" cy="533.4" r="4.1"/><circle cx="185.8" cy="533.4" r="4.1"/><circle cx="187.8" cy="533.3" r="4.1"/><circle cx="189.8" cy="533.3" r="4.1"/><circle cx="191.8" cy="533.3" r="4.1"/><circle cx="193.8" cy="533.3" r="4.1"/><circle cx="195.7" cy="533.3" r="4.1"/><circle cx="197.7" cy="533.2" r="4.1"/><circle cx="199.7" cy="533.2" r="4.1"/><circle cx="201.7" cy="533.2" r="4.1"/><circle cx="203.7" cy="533.2" r="4.1"/><circle cx="205.7" cy="533.2" r="4.1"/><circle cx="207.6" cy="533.2" r="4.1"/><circle cx="209.6" cy="533.1" r="4.1"/><circle cx="211.6" cy="533.1" r="4.1"/><circle cx="213.6" cy="533.1" r="4.1"/><circle cx="215.6" cy="533.1" r="4.1"/><circle cx="217.6" cy="533.1" r="4.1"/><circle cx="219.5" cy="533.1" r="4.1"/><circle cx="221.5" cy="533.0" r="4.1"/><circle cx="223.5" cy="533.0" r="4.1"/><circle cx="225.5" cy="533.0" r="4.1"/><circle cx="227.5" cy="533.0" r="4.1"/><circle cx="229.5" cy="533.0" r="4.1"/><circle cx="231.5" cy="533.0" r="4.1"/><circle cx="233.4" cy="532.9" r="4.1"/><circle cx="235.4" cy="532.9" r="4.1"/><circle cx="237.4" cy="532.9" r="4.1"/><circle cx="239.4" cy="532.9" r="4.1"/><circle cx="241.4" cy="532.9" r="4.1"/><circle cx="243.4" cy="532.9" r="4.1"/><circle cx="245.3" cy="532.8" r="4.1"/><circle cx="247.3" cy="532.8" r="4.1"/><circle cx="249.3" cy="532.8" r="4.1"/><circle cx="251.3" cy="532.7" r="4.1"/><circle cx="253.3" cy="532.6" r="4.1"/><circle cx="255.3" cy="532.5" r="4.1"/><circle cx="257.3" cy="532.5" r="4.1"/><circle cx="259.2" cy="532.4" r="4.1"/><circle cx="261.2" cy="532.3" r="4.1"/><circle cx="263.2" cy="532.2" r="4.1"/><circle cx="265.2" cy="532.1" r="4.1"/><circle cx="267.2" cy="532.0" r="4.1"/><circle cx="269.2" cy="531.9" r="4.1"/><circle cx="271.1" cy="531.8" r="4.1"/><circle cx="273.1" cy="531.7" r="4.1"/><circle cx="275.1" cy="531.6" r="4.1"/><circle cx="277.1" cy="531.5" r="4.1"/><circle cx="279.1" cy="531.4" r="4.1"/><circle cx="281.1" cy="531.3" r="4.1"/><circle cx="283.0" cy="531.2" r="4.1"/><circle cx="285.0" cy="531.1" r="4.1"/><circle cx="287.0" cy="531.0" r="4.1"/><circle cx="289.0" cy="530.9" r="4.1"/><circle cx="291.0" cy="530.8" r="4.1"/><circle cx="293.0" cy="530.7" r="4.1"/><circle cx="295.0" cy="530.6" r="4.1"/><circle cx="296.9" cy="530.5" r="4.1"/><circle cx="298.9" cy="530.5" r="4.1"/><circle cx="300.9" cy="530.3" r="4.1"/><circle cx="302.9" cy="530.1" r="4.1"/><circle cx="304.9" cy="529.9" r="4.1"/><circle cx="306.9" cy="529.7" r="4.1"/><circle cx="308.8" cy="529.5" r="4.1"/><circle cx="310.8" cy="529.4" r="4.1"/><circle cx="312.8" cy="529.2" r="4.1"/><circle cx="314.8" cy="529.0" r="4.1"/><circle cx="316.8" cy="528.8" r="4.1"/><circle cx="318.8" cy="528.6" r="4.1"/><circle cx="320.8" cy="528.4" r="4.1"/><circle cx="322.7" cy="528.2" r="4.1"/><circle cx="324.7" cy="528.0" r="4.1"/><circle cx="326.7" cy="527.8" r="4.1"/><circle cx="328.7" cy="527.6" r="4.1"/><circle cx="330.7" cy="527.3" r="4.1"/><circle cx="332.7" cy="526.7" r="4.1"/><circle cx="334.6" cy="526.1" r="4.1"/><circle cx="336.6" cy="525.5" r="4.1"/><circle cx="338.6" cy="524.9" r="4.1"/><circle cx="340.6" cy="524.3" r="4.1"/><circle cx="342.6" cy="523.6" r="4.1"/><circle cx="344.6" cy="523.0" r="4.1"/><circle cx="346.5" cy="522.5" r="4.1"/><circle cx="348.5" cy="521.9" r="4.1"/><circle cx="350.5" cy="521.3" r="4.1"/><circle cx="352.5" cy="520.7" r="4.1"/><circle cx="354.5" cy="520.1" r="4.1"/><circle cx="356.5" cy="519.6" r="4.1"/><circle cx="358.5" cy="518.9" r="4.1"/><circle cx="360.4" cy="518.3" r="4.1"/><circle cx="362.4" cy="517.7" r="4.1"/><circle cx="364.4" cy="517.1" r="4.1"/><circle cx="366.4" cy="516.3" r="4.1"/><circle cx="368.4" cy="515.6" r="4.1"/><circle cx="370.4" cy="514.8" r="4.1"/><circle cx="372.3" cy="514.0" r="4.1"/><circle cx="374.3" cy="513.2" r="4.1"/><circle cx="376.3" cy="511.9" r="4.1"/><circle cx="378.3" cy="509.4" r="4.1"/><circle cx="380.3" cy="510.2" r="4.1"/><circle cx="382.3" cy="508.6" r="4.1"/><circle cx="384.3" cy="504.8" r="4.1"/><circle cx="386.2" cy="505.5" r="4.1"/><circle cx="388.2" cy="502.7" r="4.1"/><circle cx="390.2" cy="496.1" r="4.1"/><circle cx="392.2" cy="494.9" r="4.1"/><circle cx="394.2" cy="489.0" r="4.1"/><circle cx="396.2" cy="484.7" r="4.1"/><circle cx="398.1" cy="481.2" r="4.1"/><circle cx="400.1" cy="471.5" r="4.1"/><circle cx="402.1" cy="459.3" r="4.1"/><circle cx="404.1" cy="452.3" r="4.1"/><circle cx="406.1" cy="447.6" r="4.1"/><circle cx="408.1" cy="441.0" r="4.1"/><circle cx="410.1" cy="430.4" r="4.1"/><circle cx="412.0" cy="423.6" r="4.1"/><circle cx="414.0" cy="416.7" r="4.1"/><circle cx="416.0" cy="402.9" r="4.1"/><circle cx="418.0" cy="389.4" r="4.1"/><circle cx="420.0" cy="382.8" r="4.1"/><circle cx="422.0" cy="373.4" r="4.1"/><circle cx="423.9" cy="371.1" r="4.1"/><circle cx="425.9" cy="368.9" r="4.1"/><circle cx="427.9" cy="366.9" r="4.1"/><circle cx="429.9" cy="363.6" r="4.1"/><circle cx="431.9" cy="367.2" r="4.1"/><circle cx="433.9" cy="368.8" r="4.1"/><circle cx="435.8" cy="373.5" r="4.1"/><circle cx="437.8" cy="374.3" r="4.1"/><circle cx="439.8" cy="378.9" r="4.1"/><circle cx="441.8" cy="381.5" r="4.1"/><circle cx="443.8" cy="387.4" r="4.1"/><circle cx="445.8" cy="388.6" r="4.1"/><circle cx="447.8" cy="391.1" r="4.1"/><circle cx="449.7" cy="394.3" r="4.1"/><circle cx="451.7" cy="396.1" r="4.1"/><circle cx="453.7" cy="395.3" r="4.1"/><circle cx="455.7" cy="392.0" r="4.1"/><circle cx="457.7" cy="390.5" r="4.1"/><circle cx="459.7" cy="392.7" r="4.1"/><circle cx="461.6" cy="390.9" r="4.1"/><circle cx="463.6" cy="390.8" r="4.1"/><circle cx="465.6" cy="388.0" r="4.1"/><circle cx="467.6" cy="387.2" r="4.1"/><circle cx="469.6" cy="388.9" r="4.1"/><circle cx="471.6" cy="388.0" r="4.1"/><circle cx="473.6" cy="386.9" r="4.1"/><circle cx="475.5" cy="390.3" r="4.1"/><circle cx="477.5" cy="389.0" r="4.1"/><circle cx="479.5" cy="389.0" r="4.1"/><circle cx="481.5" cy="385.8" r="4.1"/><circle cx="483.5" cy="388.0" r="4.1"/><circle cx="485.5" cy="384.7" r="4.1"/><circle cx="487.4" cy="387.2" r="4.1"/><circle cx="489.4" cy="385.3" r="4.1"/><circle cx="491.4" cy="384.2" r="4.1"/><circle cx="493.4" cy="384.1" r="4.1"/><circle cx="495.4" cy="384.7" r="4.1"/><circle cx="497.4" cy="381.9" r="4.1"/><circle cx="499.3" cy="381.1" r="4.1"/><circle cx="501.3" cy="382.2" r="4.1"/><circle cx="503.3" cy="380.9" r="4.1"/><circle cx="505.3" cy="380.3" r="4.1"/><circle cx="507.3" cy="380.9" r="4.1"/><circle cx="509.3" cy="380.9" r="4.1"/><circle cx="511.3" cy="381.8" r="4.1"/><circle cx="513.2" cy="382.6" r="4.1"/><circle cx="515.2" cy="383.0" r="4.1"/><circle cx="517.2" cy="385.3" r="4.1"/><circle cx="519.2" cy="384.3" r="4.1"/><circle cx="521.2" cy="385.8" r="4.1"/><circle cx="523.2" cy="385.4" r="4.1"/><circle cx="525.1" cy="386.8" r="4.1"/><circle cx="527.1" cy="386.4" r="4.1"/><circle cx="529.1" cy="388.1" r="4.1"/><circle cx="531.1" cy="388.2" r="4.1"/><circle cx="533.1" cy="393.3" r="4.1"/><circle cx="535.1" cy="395.2" r="4.1"/><circle cx="537.1" cy="395.2" r="4.1"/><circle cx="539.0" cy="397.4" r="4.1"/><circle cx="541.0" cy="397.9" r="4.1"/><circle cx="543.0" cy="393.8" r="4.1"/><circle cx="545.0" cy="395.1" r="4.1"/><circle cx="547.0" cy="392.1" r="4.1"/><circle cx="549.0" cy="390.7" r="4.1"/><circle cx="550.9" cy="390.3" r="4.1"/><circle cx="552.9" cy="384.4" r="4.1"/><circle cx="554.9" cy="375.2" r="4.1"/><circle cx="556.9" cy="372.4" r="4.1"/><circle cx="558.9" cy="367.1" r="4.1"/><circle cx="560.9" cy="358.8" r="4.1"/><circle cx="562.8" cy="360.2" r="4.1"/><circle cx="564.8" cy="359.3" r="4.1"/><circle cx="566.8" cy="360.7" r="4.1"/><circle cx="568.8" cy="361.9" r="4.1"/><circle cx="570.8" cy="367.1" r="4.1"/><circle cx="572.8" cy="363.2" r="4.1"/><circle cx="574.8" cy="359.5" r="4.1"/><circle cx="576.7" cy="360.8" r="4.1"/><circle cx="578.7" cy="365.2" r="4.1"/><circle cx="580.7" cy="370.4" r="4.1"/><circle cx="582.7" cy="381.7" r="4.1"/><circle cx="584.7" cy="390.3" r="4.1"/><circle cx="586.7" cy="396.5" r="4.1"/><circle cx="588.6" cy="400.0" r="4.1"/><circle cx="590.6" cy="401.7" r="4.1"/><circle cx="592.6" cy="401.9" r="4.1"/><circle cx="594.6" cy="402.7" r="4.1"/><circle cx="596.6" cy="403.9" r="4.1"/><circle cx="598.6" cy="405.5" r="4.1"/><circle cx="600.6" cy="405.6" r="4.1"/><circle cx="602.5" cy="408.0" r="4.1"/><circle cx="604.5" cy="408.6" r="4.1"/><circle cx="606.5" cy="412.5" r="4.1"/><circle cx="608.5" cy="414.3" r="4.1"/><circle cx="610.5" cy="414.7" r="4.1"/><circle cx="612.5" cy="415.6" r="4.1"/><circle cx="614.4" cy="420.2" r="4.1"/><circle cx="616.4" cy="421.0" r="4.1"/><circle cx="618.4" cy="424.6" r="4.1"/><circle cx="620.4" cy="426.7" r="4.1"/><circle cx="622.4" cy="431.1" r="4.1"/><circle cx="624.4" cy="434.4" r="4.1"/><circle cx="626.4" cy="437.0" r="4.1"/><circle cx="628.3" cy="437.9" r="4.1"/><circle cx="630.3" cy="440.9" r="4.1"/><circle cx="632.3" cy="441.2" r="4.1"/><circle cx="634.3" cy="444.5" r="4.1"/><circle cx="636.3" cy="446.3" r="4.1"/><circle cx="638.3" cy="449.8" r="4.1"/><circle cx="640.2" cy="449.5" r="4.1"/><circle cx="642.2" cy="450.4" r="4.1"/><circle cx="644.2" cy="452.5" r="4.1"/><circle cx="646.2" cy="453.1" r="4.1"/><circle cx="648.2" cy="454.6" r="4.1"/><circle cx="650.2" cy="454.6" r="4.1"/><circle cx="652.1" cy="455.9" r="4.1"/><circle cx="654.1" cy="456.2" r="4.1"/><circle cx="656.1" cy="457.0" r="4.1"/><circle cx="658.1" cy="458.3" r="4.1"/><circle cx="660.1" cy="456.5" r="4.1"/><circle cx="662.1" cy="456.0" r="4.1"/><circle cx="664.1" cy="458.2" r="4.1"/><circle cx="666.0" cy="454.9" r="4.1"/><circle cx="668.0" cy="456.7" r="4.1"/><circle cx="670.0" cy="456.6" r="4.1"/><circle cx="672.0" cy="454.9" r="4.1"/><circle cx="674.0" cy="458.3" r="4.1"/><circle cx="676.0" cy="459.0" r="4.1"/><circle cx="677.9" cy="458.6" r="4.1"/><circle cx="679.9" cy="459.4" r="4.1"/><circle cx="681.9" cy="460.0" r="4.1"/><circle cx="683.9" cy="457.8" r="4.1"/><circle cx="685.9" cy="460.5" r="4.1"/><circle cx="687.9" cy="460.6" r="4.1"/><circle cx="689.9" cy="461.8" r="4.1"/><circle cx="691.8" cy="460.8" r="4.1"/><circle cx="693.8" cy="460.1" r="4.1"/><circle cx="695.8" cy="458.0" r="4.1"/><circle cx="697.8" cy="458.6" r="4.1"/><circle cx="699.8" cy="455.9" r="4.1"/><circle cx="701.8" cy="454.3" r="4.1"/><circle cx="703.7" cy="450.3" r="4.1"/><circle cx="705.7" cy="447.7" r="4.1"/><circle cx="707.7" cy="446.9" r="4.1"/><circle cx="709.7" cy="446.7" r="4.1"/><circle cx="711.7" cy="444.1" r="4.1"/><circle cx="713.7" cy="446.5" r="4.1"/><circle cx="715.6" cy="443.8" r="4.1"/><circle cx="717.6" cy="442.8" r="4.1"/><circle cx="719.6" cy="441.5" r="4.1"/><circle cx="721.6" cy="440.5" r="4.1"/><circle cx="723.6" cy="438.2" r="4.1"/><circle cx="725.6" cy="434.4" r="4.1"/><circle cx="727.6" cy="437.1" r="4.1"/><circle cx="729.5" cy="435.9" r="4.1"/><circle cx="731.5" cy="434.7" r="4.1"/><circle cx="733.5" cy="434.9" r="4.1"/><circle cx="735.5" cy="435.5" r="4.1"/><circle cx="737.5" cy="432.6" r="4.1"/><circle cx="739.5" cy="436.2" r="4.1"/><circle cx="741.4" cy="434.0" r="4.1"/><circle cx="743.4" cy="433.4" r="4.1"/></g>
</g>
<g clip-path="url(#pl)">
<polyline points="743.2,432.5 752.8,428.5 760.6,429.5 769.7,432.9 778.8,433.7 789.2,432.9 799.6,434.2 810.0,436.8 820.4,440.7 830.8,445.9 841.3,452.4 851.7,460.2 862.1,469.3 872.5,477.1 882.9,486.3 892.0,494.1 901.1,501.9 905.0,505.8" fill="none" stroke="#26b14a" stroke-width="4" stroke-linejoin="round"/>
</g>
<rect x="754.9" y="487.2" width="149" height="6.6" fill="#f04848" fill-opacity="0.72"/>
<rect x="755" y="497" width="146" height="21" fill="#fff" fill-opacity="0.65"/>
<text x="756.3" y="514.5" font-size="18.7" font-weight="bold" fill="#e3161b" textLength="141" lengthAdjust="spacingAndGlyphs">Epi 300 poz./dan</text>
<rect x="104.4" y="92.7" width="338.9" height="177.1" fill="#fff" stroke="#3c3c3c" stroke-width="1.4"/>
<text x="148.5" y="108.3" font-size="13.2" fill="#383838" stroke="#383838" stroke-width="0.25" textLength="188.4" lengthAdjust="spacingAndGlyphs">Potrjeni primeri (dnevni podatki)</text>
<text x="148.5" y="130.4" font-size="13.2" fill="#383838" stroke="#383838" stroke-width="0.25" textLength="217.2" lengthAdjust="spacingAndGlyphs">Potrjeni primeri (7-dnevno povprečje)</text>
<text x="148.5" y="152.5" font-size="13.2" fill="#383838" stroke="#383838" stroke-width="0.25" textLength="204.7" lengthAdjust="spacingAndGlyphs">Potrjeni primeri (projekcija: R -25%)</text>
<text x="148.5" y="174.6" font-size="13.2" fill="#383838" stroke="#383838" stroke-width="0.25" textLength="289.9" lengthAdjust="spacingAndGlyphs">Potrjeni primeri (pričakovano območje dnev. pod.)</text>
<text x="148.5" y="196.7" font-size="13.2" fill="#383838" stroke="#383838" stroke-width="0.25" textLength="189.4" lengthAdjust="spacingAndGlyphs">Uvoženi primeri (dnevni podatki)</text>
<text x="148.5" y="218.8" font-size="13.2" fill="#383838" stroke="#383838" stroke-width="0.25" textLength="217.5" lengthAdjust="spacingAndGlyphs">Uvoženi primeri (7-dnevno povprečje)</text>
<text x="148.5" y="240.9" font-size="13.2" fill="#383838" stroke="#383838" stroke-width="0.25" textLength="274.6" lengthAdjust="spacingAndGlyphs">14-dnevna incidenca na 100.000 preb. (podatki)</text>
<text x="148.5" y="263.0" font-size="13.2" fill="#383838" stroke="#383838" stroke-width="0.25" textLength="287.1" lengthAdjust="spacingAndGlyphs">14-dnevna incidenca na 100.000 preb. (projekcija)</text>
<path d="M129,99.2l4.5,4.5l-4.5,4.5l-4.5,-4.5z" fill="#1a6ec4" stroke="#163a6a" stroke-width="0.8"/>
<line x1="111.5" y1="125.8" x2="145.5" y2="125.8" stroke="#1b72c4" stroke-width="3.6" stroke-linecap="round"/>
<line x1="112" y1="147.9" x2="146" y2="147.9" stroke="#1d74c6" stroke-width="4" stroke-linecap="round" stroke-dasharray="0 8.6"/>
<line x1="111.5" y1="170.0" x2="146" y2="170.0" stroke="#5478b4" stroke-width="3" stroke-linecap="round" stroke-dasharray="0 6.9"/>
<path d="M129,188.1l3.9,7.4h-7.8z" fill="#4a2280" stroke="#220c45" stroke-width="0.9"/>
<line x1="111.5" y1="214.2" x2="145.5" y2="214.2" stroke="#7030a0" stroke-width="3.6" stroke-linecap="round"/>
<circle cx="129" cy="236.3" r="3.8" fill="#22ad4a" stroke="#0a3a14" stroke-width="1.1"/>
<line x1="111.5" y1="258.4" x2="145.5" y2="258.4" stroke="#26b14a" stroke-width="3.6" stroke-linecap="round"/>
<text x="83.4" y="540.1" font-size="16.3" fill="#383838" stroke="#383838" stroke-width="0.25" text-anchor="end">0</text>
<text x="83.4" y="464.9" font-size="16.3" fill="#383838" stroke="#383838" stroke-width="0.25" text-anchor="end">500</text>
<text x="83.4" y="389.7" font-size="16.3" fill="#383838" stroke="#383838" stroke-width="0.25" text-anchor="end">1000</text>
<text x="83.4" y="314.5" font-size="16.3" fill="#383838" stroke="#383838" stroke-width="0.25" text-anchor="end">1500</text>
<text x="83.4" y="239.4" font-size="16.3" fill="#383838" stroke="#383838" stroke-width="0.25" text-anchor="end">2000</text>
<text x="83.4" y="164.2" font-size="16.3" fill="#383838" stroke="#383838" stroke-width="0.25" text-anchor="end">2500</text>
<text x="83.4" y="89.0" font-size="16.3" fill="#383838" stroke="#383838" stroke-width="0.25" text-anchor="end">3000</text>
<text x="98.5" y="563.6" font-size="16.4" fill="#383838" stroke="#383838" stroke-width="0.25" text-anchor="middle">20.maj</text>
<text x="154.1" y="563.6" font-size="16.4" fill="#383838" stroke="#383838" stroke-width="0.25" text-anchor="middle">17.jun</text>
<text x="209.6" y="563.6" font-size="16.4" fill="#383838" stroke="#383838" stroke-width="0.25" text-anchor="middle">15.jul</text>
<text x="265.2" y="563.6" font-size="16.4" fill="#383838" stroke="#383838" stroke-width="0.25" text-anchor="middle">12.avg</text>
<text x="320.8" y="563.6" font-size="16.4" fill="#383838" stroke="#383838" stroke-width="0.25" text-anchor="middle">9.sep</text>
<text x="376.3" y="563.6" font-size="16.4" fill="#383838" stroke="#383838" stroke-width="0.25" text-anchor="middle">7.okt</text>
<text x="431.9" y="563.6" font-size="16.4" fill="#383838" stroke="#383838" stroke-width="0.25" text-anchor="middle">4.nov</text>
<text x="487.4" y="563.6" font-size="16.4" fill="#383838" stroke="#383838" stroke-width="0.25" text-anchor="middle">2.dec</text>
<text x="543.0" y="563.6" font-size="16.4" fill="#383838" stroke="#383838" stroke-width="0.25" text-anchor="middle">30.dec</text>
<text x="598.6" y="563.6" font-size="16.4" fill="#383838" stroke="#383838" stroke-width="0.25" text-anchor="middle">27.jan</text>
<text x="654.1" y="563.6" font-size="16.4" fill="#383838" stroke="#383838" stroke-width="0.25" text-anchor="middle">24.feb</text>
<text x="709.7" y="563.6" font-size="16.4" fill="#383838" stroke="#383838" stroke-width="0.25" text-anchor="middle">24.mar</text>
<text x="765.3" y="563.6" font-size="16.4" fill="#383838" stroke="#383838" stroke-width="0.25" text-anchor="middle">21.apr</text>
<text x="820.8" y="563.6" font-size="16.4" fill="#383838" stroke="#383838" stroke-width="0.25" text-anchor="middle">19.maj</text>
<text x="876.4" y="563.6" font-size="16.4" fill="#383838" stroke="#383838" stroke-width="0.25" text-anchor="middle">16.jun</text>
<text x="501" y="591.7" font-size="18" font-weight="bold" fill="#000" text-anchor="middle">Datum</text>
</svg></body></html>
